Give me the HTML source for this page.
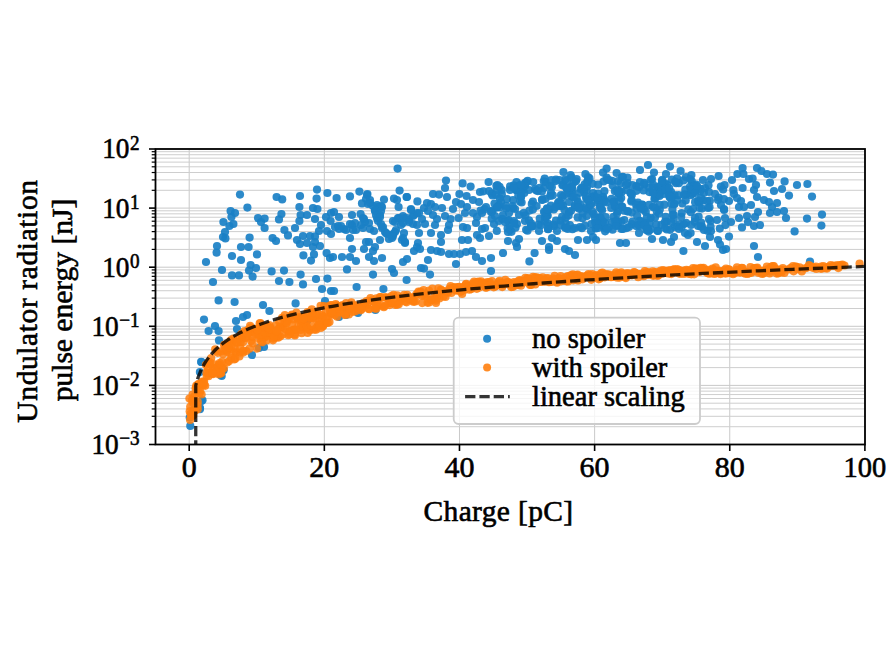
<!DOCTYPE html>
<html><head><meta charset="utf-8"><style>
html,body{margin:0;padding:0;background:#fff;width:890px;height:665px;overflow:hidden}
svg{display:block;font-family:"Liberation Serif",serif}
</style></head><body>
<svg width="890" height="665" viewBox="0 0 890 665" font-family="Liberation Serif, serif" fill="#000">
<defs><clipPath id="ax"><rect x="155.5" y="149.0" width="709.5" height="295.5"/></clipPath></defs>
<rect width="890" height="665" fill="#fff"/>
<line x1="189.20" y1="149.0" x2="189.20" y2="444.5" stroke="#c9c9c9" stroke-width="1.0"/>
<line x1="324.34" y1="149.0" x2="324.34" y2="444.5" stroke="#c9c9c9" stroke-width="1.0"/>
<line x1="459.48" y1="149.0" x2="459.48" y2="444.5" stroke="#c9c9c9" stroke-width="1.0"/>
<line x1="594.62" y1="149.0" x2="594.62" y2="444.5" stroke="#c9c9c9" stroke-width="1.0"/>
<line x1="729.76" y1="149.0" x2="729.76" y2="444.5" stroke="#c9c9c9" stroke-width="1.0"/>
<line x1="864.90" y1="149.0" x2="864.90" y2="444.5" stroke="#c9c9c9" stroke-width="1.0"/>
<line x1="155.5" y1="444.50" x2="865.0" y2="444.50" stroke="#c9c9c9" stroke-width="1.0"/>
<line x1="155.5" y1="426.71" x2="865.0" y2="426.71" stroke="#cecece" stroke-width="1.0"/>
<line x1="155.5" y1="416.30" x2="865.0" y2="416.30" stroke="#cecece" stroke-width="1.0"/>
<line x1="155.5" y1="408.92" x2="865.0" y2="408.92" stroke="#cecece" stroke-width="1.0"/>
<line x1="155.5" y1="403.19" x2="865.0" y2="403.19" stroke="#cecece" stroke-width="1.0"/>
<line x1="155.5" y1="398.51" x2="865.0" y2="398.51" stroke="#cecece" stroke-width="1.0"/>
<line x1="155.5" y1="394.55" x2="865.0" y2="394.55" stroke="#cecece" stroke-width="1.0"/>
<line x1="155.5" y1="391.13" x2="865.0" y2="391.13" stroke="#cecece" stroke-width="1.0"/>
<line x1="155.5" y1="388.10" x2="865.0" y2="388.10" stroke="#cecece" stroke-width="1.0"/>
<line x1="155.5" y1="385.40" x2="865.0" y2="385.40" stroke="#c9c9c9" stroke-width="1.0"/>
<line x1="155.5" y1="367.61" x2="865.0" y2="367.61" stroke="#cecece" stroke-width="1.0"/>
<line x1="155.5" y1="357.20" x2="865.0" y2="357.20" stroke="#cecece" stroke-width="1.0"/>
<line x1="155.5" y1="349.82" x2="865.0" y2="349.82" stroke="#cecece" stroke-width="1.0"/>
<line x1="155.5" y1="344.09" x2="865.0" y2="344.09" stroke="#cecece" stroke-width="1.0"/>
<line x1="155.5" y1="339.41" x2="865.0" y2="339.41" stroke="#cecece" stroke-width="1.0"/>
<line x1="155.5" y1="335.45" x2="865.0" y2="335.45" stroke="#cecece" stroke-width="1.0"/>
<line x1="155.5" y1="332.03" x2="865.0" y2="332.03" stroke="#cecece" stroke-width="1.0"/>
<line x1="155.5" y1="329.00" x2="865.0" y2="329.00" stroke="#cecece" stroke-width="1.0"/>
<line x1="155.5" y1="326.30" x2="865.0" y2="326.30" stroke="#c9c9c9" stroke-width="1.0"/>
<line x1="155.5" y1="308.51" x2="865.0" y2="308.51" stroke="#cecece" stroke-width="1.0"/>
<line x1="155.5" y1="298.10" x2="865.0" y2="298.10" stroke="#cecece" stroke-width="1.0"/>
<line x1="155.5" y1="290.72" x2="865.0" y2="290.72" stroke="#cecece" stroke-width="1.0"/>
<line x1="155.5" y1="284.99" x2="865.0" y2="284.99" stroke="#cecece" stroke-width="1.0"/>
<line x1="155.5" y1="280.31" x2="865.0" y2="280.31" stroke="#cecece" stroke-width="1.0"/>
<line x1="155.5" y1="276.35" x2="865.0" y2="276.35" stroke="#cecece" stroke-width="1.0"/>
<line x1="155.5" y1="272.93" x2="865.0" y2="272.93" stroke="#cecece" stroke-width="1.0"/>
<line x1="155.5" y1="269.90" x2="865.0" y2="269.90" stroke="#cecece" stroke-width="1.0"/>
<line x1="155.5" y1="267.20" x2="865.0" y2="267.20" stroke="#c9c9c9" stroke-width="1.0"/>
<line x1="155.5" y1="249.41" x2="865.0" y2="249.41" stroke="#cecece" stroke-width="1.0"/>
<line x1="155.5" y1="239.00" x2="865.0" y2="239.00" stroke="#cecece" stroke-width="1.0"/>
<line x1="155.5" y1="231.62" x2="865.0" y2="231.62" stroke="#cecece" stroke-width="1.0"/>
<line x1="155.5" y1="225.89" x2="865.0" y2="225.89" stroke="#cecece" stroke-width="1.0"/>
<line x1="155.5" y1="221.21" x2="865.0" y2="221.21" stroke="#cecece" stroke-width="1.0"/>
<line x1="155.5" y1="217.25" x2="865.0" y2="217.25" stroke="#cecece" stroke-width="1.0"/>
<line x1="155.5" y1="213.83" x2="865.0" y2="213.83" stroke="#cecece" stroke-width="1.0"/>
<line x1="155.5" y1="210.80" x2="865.0" y2="210.80" stroke="#cecece" stroke-width="1.0"/>
<line x1="155.5" y1="208.10" x2="865.0" y2="208.10" stroke="#c9c9c9" stroke-width="1.0"/>
<line x1="155.5" y1="190.31" x2="865.0" y2="190.31" stroke="#cecece" stroke-width="1.0"/>
<line x1="155.5" y1="179.90" x2="865.0" y2="179.90" stroke="#cecece" stroke-width="1.0"/>
<line x1="155.5" y1="172.52" x2="865.0" y2="172.52" stroke="#cecece" stroke-width="1.0"/>
<line x1="155.5" y1="166.79" x2="865.0" y2="166.79" stroke="#cecece" stroke-width="1.0"/>
<line x1="155.5" y1="162.11" x2="865.0" y2="162.11" stroke="#cecece" stroke-width="1.0"/>
<line x1="155.5" y1="158.15" x2="865.0" y2="158.15" stroke="#cecece" stroke-width="1.0"/>
<line x1="155.5" y1="154.73" x2="865.0" y2="154.73" stroke="#cecece" stroke-width="1.0"/>
<line x1="155.5" y1="151.70" x2="865.0" y2="151.70" stroke="#cecece" stroke-width="1.0"/>
<line x1="155.5" y1="149.00" x2="865.0" y2="149.00" stroke="#c9c9c9" stroke-width="1.0"/>
<g fill="#1a80c6" fill-opacity="0.92"><circle cx="512.6" cy="206.0" r="4.1"/><circle cx="624.2" cy="210.7" r="4.1"/><circle cx="511.5" cy="231.8" r="4.1"/><circle cx="695.1" cy="202.2" r="4.1"/><circle cx="599.6" cy="217.3" r="4.1"/><circle cx="560.5" cy="220.7" r="4.1"/><circle cx="725.4" cy="225.1" r="4.1"/><circle cx="531.8" cy="203.9" r="4.1"/><circle cx="547.0" cy="208.3" r="4.1"/><circle cx="644.7" cy="184.3" r="4.1"/><circle cx="657.7" cy="187.0" r="4.1"/><circle cx="614.9" cy="191.2" r="4.1"/><circle cx="627.4" cy="177.6" r="4.1"/><circle cx="540.9" cy="225.2" r="4.1"/><circle cx="622.9" cy="176.8" r="4.1"/><circle cx="564.4" cy="209.8" r="4.1"/><circle cx="580.4" cy="204.6" r="4.1"/><circle cx="621.7" cy="206.9" r="4.1"/><circle cx="659.7" cy="188.5" r="4.1"/><circle cx="627.8" cy="211.0" r="4.1"/><circle cx="631.3" cy="201.6" r="4.1"/><circle cx="547.5" cy="215.3" r="4.1"/><circle cx="646.2" cy="229.9" r="4.1"/><circle cx="579.2" cy="208.8" r="4.1"/><circle cx="551.0" cy="192.8" r="4.1"/><circle cx="621.7" cy="192.1" r="4.1"/><circle cx="613.6" cy="216.9" r="4.1"/><circle cx="507.9" cy="220.8" r="4.1"/><circle cx="709.9" cy="200.7" r="4.1"/><circle cx="686.1" cy="222.8" r="4.1"/><circle cx="525.0" cy="221.0" r="4.1"/><circle cx="685.9" cy="194.7" r="4.1"/><circle cx="529.0" cy="220.3" r="4.1"/><circle cx="545.6" cy="198.8" r="4.1"/><circle cx="564.9" cy="227.5" r="4.1"/><circle cx="572.5" cy="229.2" r="4.1"/><circle cx="642.2" cy="204.6" r="4.1"/><circle cx="544.0" cy="188.0" r="4.1"/><circle cx="619.5" cy="191.4" r="4.1"/><circle cx="667.3" cy="184.8" r="4.1"/><circle cx="642.2" cy="204.9" r="4.1"/><circle cx="517.0" cy="224.1" r="4.1"/><circle cx="678.6" cy="195.1" r="4.1"/><circle cx="603.1" cy="221.6" r="4.1"/><circle cx="681.5" cy="227.5" r="4.1"/><circle cx="631.7" cy="224.2" r="4.1"/><circle cx="522.8" cy="190.3" r="4.1"/><circle cx="569.0" cy="202.0" r="4.1"/><circle cx="593.1" cy="193.0" r="4.1"/><circle cx="547.1" cy="211.9" r="4.1"/><circle cx="550.1" cy="185.9" r="4.1"/><circle cx="556.0" cy="179.6" r="4.1"/><circle cx="553.8" cy="209.5" r="4.1"/><circle cx="556.0" cy="220.7" r="4.1"/><circle cx="571.6" cy="196.2" r="4.1"/><circle cx="654.4" cy="199.0" r="4.1"/><circle cx="580.6" cy="189.0" r="4.1"/><circle cx="652.0" cy="179.1" r="4.1"/><circle cx="569.9" cy="225.1" r="4.1"/><circle cx="554.1" cy="226.2" r="4.1"/><circle cx="520.0" cy="201.5" r="4.1"/><circle cx="681.7" cy="213.1" r="4.1"/><circle cx="612.0" cy="180.9" r="4.1"/><circle cx="708.5" cy="185.2" r="4.1"/><circle cx="645.4" cy="222.7" r="4.1"/><circle cx="616.6" cy="220.5" r="4.1"/><circle cx="674.1" cy="204.1" r="4.1"/><circle cx="612.0" cy="222.2" r="4.1"/><circle cx="669.8" cy="197.4" r="4.1"/><circle cx="561.0" cy="195.0" r="4.1"/><circle cx="565.9" cy="217.6" r="4.1"/><circle cx="650.7" cy="218.1" r="4.1"/><circle cx="597.7" cy="202.6" r="4.1"/><circle cx="597.8" cy="200.3" r="4.1"/><circle cx="496.8" cy="190.2" r="4.1"/><circle cx="618.6" cy="192.9" r="4.1"/><circle cx="650.8" cy="229.3" r="4.1"/><circle cx="655.1" cy="198.6" r="4.1"/><circle cx="618.3" cy="190.2" r="4.1"/><circle cx="492.5" cy="195.5" r="4.1"/><circle cx="676.1" cy="183.2" r="4.1"/><circle cx="586.3" cy="209.1" r="4.1"/><circle cx="694.6" cy="221.8" r="4.1"/><circle cx="586.8" cy="216.1" r="4.1"/><circle cx="562.1" cy="216.8" r="4.1"/><circle cx="582.6" cy="188.1" r="4.1"/><circle cx="658.9" cy="213.5" r="4.1"/><circle cx="700.4" cy="188.8" r="4.1"/><circle cx="518.9" cy="185.7" r="4.1"/><circle cx="701.9" cy="226.3" r="4.1"/><circle cx="703.9" cy="192.9" r="4.1"/><circle cx="662.3" cy="179.9" r="4.1"/><circle cx="694.3" cy="191.6" r="4.1"/><circle cx="617.0" cy="213.5" r="4.1"/><circle cx="542.1" cy="199.9" r="4.1"/><circle cx="559.2" cy="206.0" r="4.1"/><circle cx="523.8" cy="212.9" r="4.1"/><circle cx="710.6" cy="226.8" r="4.1"/><circle cx="671.0" cy="191.8" r="4.1"/><circle cx="639.5" cy="220.9" r="4.1"/><circle cx="670.0" cy="229.8" r="4.1"/><circle cx="603.5" cy="181.5" r="4.1"/><circle cx="547.4" cy="215.9" r="4.1"/><circle cx="612.7" cy="185.4" r="4.1"/><circle cx="632.4" cy="185.2" r="4.1"/><circle cx="639.9" cy="182.0" r="4.1"/><circle cx="622.2" cy="206.6" r="4.1"/><circle cx="579.6" cy="192.8" r="4.1"/><circle cx="605.7" cy="217.2" r="4.1"/><circle cx="521.1" cy="196.9" r="4.1"/><circle cx="674.5" cy="195.2" r="4.1"/><circle cx="563.0" cy="205.9" r="4.1"/><circle cx="547.6" cy="223.3" r="4.1"/><circle cx="496.4" cy="185.8" r="4.1"/><circle cx="666.7" cy="221.5" r="4.1"/><circle cx="620.5" cy="183.3" r="4.1"/><circle cx="617.8" cy="211.1" r="4.1"/><circle cx="649.4" cy="192.1" r="4.1"/><circle cx="587.6" cy="209.3" r="4.1"/><circle cx="590.0" cy="204.8" r="4.1"/><circle cx="499.0" cy="205.2" r="4.1"/><circle cx="592.6" cy="211.8" r="4.1"/><circle cx="612.6" cy="229.7" r="4.1"/><circle cx="538.6" cy="224.6" r="4.1"/><circle cx="544.8" cy="221.0" r="4.1"/><circle cx="587.9" cy="181.2" r="4.1"/><circle cx="603.9" cy="199.1" r="4.1"/><circle cx="532.9" cy="201.5" r="4.1"/><circle cx="562.4" cy="185.3" r="4.1"/><circle cx="659.5" cy="195.9" r="4.1"/><circle cx="601.4" cy="209.0" r="4.1"/><circle cx="678.9" cy="183.2" r="4.1"/><circle cx="499.6" cy="186.9" r="4.1"/><circle cx="563.1" cy="184.6" r="4.1"/><circle cx="589.5" cy="178.4" r="4.1"/><circle cx="576.6" cy="198.2" r="4.1"/><circle cx="584.7" cy="184.4" r="4.1"/><circle cx="545.6" cy="182.1" r="4.1"/><circle cx="661.9" cy="190.7" r="4.1"/><circle cx="581.9" cy="228.2" r="4.1"/><circle cx="516.2" cy="190.2" r="4.1"/><circle cx="631.9" cy="194.7" r="4.1"/><circle cx="648.1" cy="230.2" r="4.1"/><circle cx="639.6" cy="226.3" r="4.1"/><circle cx="719.8" cy="228.6" r="4.1"/><circle cx="532.9" cy="209.6" r="4.1"/><circle cx="647.4" cy="227.9" r="4.1"/><circle cx="665.6" cy="216.8" r="4.1"/><circle cx="608.8" cy="227.6" r="4.1"/><circle cx="566.5" cy="188.1" r="4.1"/><circle cx="586.6" cy="190.4" r="4.1"/><circle cx="659.8" cy="209.5" r="4.1"/><circle cx="558.0" cy="202.8" r="4.1"/><circle cx="582.4" cy="218.2" r="4.1"/><circle cx="663.5" cy="194.0" r="4.1"/><circle cx="636.6" cy="208.4" r="4.1"/><circle cx="510.1" cy="230.1" r="4.1"/><circle cx="611.5" cy="198.9" r="4.1"/><circle cx="624.3" cy="220.0" r="4.1"/><circle cx="497.4" cy="185.1" r="4.1"/><circle cx="691.8" cy="181.4" r="4.1"/><circle cx="581.9" cy="187.7" r="4.1"/><circle cx="627.7" cy="211.6" r="4.1"/><circle cx="575.9" cy="181.3" r="4.1"/><circle cx="621.3" cy="221.4" r="4.1"/><circle cx="604.5" cy="201.5" r="4.1"/><circle cx="569.0" cy="212.0" r="4.1"/><circle cx="542.2" cy="199.6" r="4.1"/><circle cx="661.5" cy="224.9" r="4.1"/><circle cx="626.7" cy="228.1" r="4.1"/><circle cx="567.7" cy="229.0" r="4.1"/><circle cx="660.3" cy="191.8" r="4.1"/><circle cx="667.3" cy="190.7" r="4.1"/><circle cx="545.2" cy="217.3" r="4.1"/><circle cx="527.6" cy="180.9" r="4.1"/><circle cx="565.4" cy="179.4" r="4.1"/><circle cx="672.6" cy="214.9" r="4.1"/><circle cx="600.4" cy="205.9" r="4.1"/><circle cx="700.1" cy="191.3" r="4.1"/><circle cx="710.5" cy="221.0" r="4.1"/><circle cx="514.0" cy="221.0" r="4.1"/><circle cx="502.2" cy="218.9" r="4.1"/><circle cx="535.0" cy="189.1" r="4.1"/><circle cx="567.6" cy="189.8" r="4.1"/><circle cx="571.0" cy="210.8" r="4.1"/><circle cx="595.2" cy="222.4" r="4.1"/><circle cx="525.3" cy="184.6" r="4.1"/><circle cx="636.1" cy="226.1" r="4.1"/><circle cx="582.6" cy="212.9" r="4.1"/><circle cx="688.3" cy="209.4" r="4.1"/><circle cx="598.1" cy="184.7" r="4.1"/><circle cx="648.6" cy="231.6" r="4.1"/><circle cx="564.5" cy="195.1" r="4.1"/><circle cx="565.6" cy="223.5" r="4.1"/><circle cx="724.1" cy="209.9" r="4.1"/><circle cx="615.2" cy="206.3" r="4.1"/><circle cx="525.4" cy="215.4" r="4.1"/><circle cx="597.0" cy="226.1" r="4.1"/><circle cx="636.3" cy="186.1" r="4.1"/><circle cx="536.4" cy="190.4" r="4.1"/><circle cx="526.0" cy="182.5" r="4.1"/><circle cx="510.1" cy="186.4" r="4.1"/><circle cx="600.5" cy="217.4" r="4.1"/><circle cx="632.5" cy="221.6" r="4.1"/><circle cx="526.1" cy="229.8" r="4.1"/><circle cx="521.6" cy="202.5" r="4.1"/><circle cx="606.6" cy="177.7" r="4.1"/><circle cx="645.8" cy="211.9" r="4.1"/><circle cx="603.1" cy="196.8" r="4.1"/><circle cx="525.6" cy="182.5" r="4.1"/><circle cx="548.1" cy="229.2" r="4.1"/><circle cx="654.5" cy="192.9" r="4.1"/><circle cx="545.3" cy="217.6" r="4.1"/><circle cx="613.5" cy="201.5" r="4.1"/><circle cx="574.9" cy="205.5" r="4.1"/><circle cx="696.2" cy="184.6" r="4.1"/><circle cx="649.1" cy="204.9" r="4.1"/><circle cx="484.6" cy="209.2" r="4.1"/><circle cx="594.4" cy="196.3" r="4.1"/><circle cx="549.3" cy="209.3" r="4.1"/><circle cx="527.5" cy="230.7" r="4.1"/><circle cx="544.0" cy="211.8" r="4.1"/><circle cx="602.1" cy="224.9" r="4.1"/><circle cx="601.2" cy="200.2" r="4.1"/><circle cx="677.1" cy="178.4" r="4.1"/><circle cx="551.8" cy="187.2" r="4.1"/><circle cx="657.0" cy="195.6" r="4.1"/><circle cx="594.1" cy="197.7" r="4.1"/><circle cx="638.8" cy="224.9" r="4.1"/><circle cx="627.5" cy="183.0" r="4.1"/><circle cx="537.8" cy="191.1" r="4.1"/><circle cx="604.3" cy="227.5" r="4.1"/><circle cx="664.9" cy="222.2" r="4.1"/><circle cx="585.0" cy="225.7" r="4.1"/><circle cx="693.9" cy="185.5" r="4.1"/><circle cx="558.6" cy="204.2" r="4.1"/><circle cx="631.7" cy="212.6" r="4.1"/><circle cx="650.8" cy="179.8" r="4.1"/><circle cx="586.4" cy="199.1" r="4.1"/><circle cx="692.1" cy="193.9" r="4.1"/><circle cx="617.8" cy="225.4" r="4.1"/><circle cx="559.5" cy="180.0" r="4.1"/><circle cx="599.7" cy="207.7" r="4.1"/><circle cx="604.4" cy="191.2" r="4.1"/><circle cx="641.7" cy="205.1" r="4.1"/><circle cx="531.1" cy="226.3" r="4.1"/><circle cx="602.1" cy="210.3" r="4.1"/><circle cx="674.5" cy="226.9" r="4.1"/><circle cx="665.1" cy="186.6" r="4.1"/><circle cx="572.0" cy="192.8" r="4.1"/><circle cx="718.6" cy="197.6" r="4.1"/><circle cx="592.1" cy="196.9" r="4.1"/><circle cx="562.4" cy="197.2" r="4.1"/><circle cx="516.5" cy="190.0" r="4.1"/><circle cx="543.8" cy="181.3" r="4.1"/><circle cx="574.9" cy="207.2" r="4.1"/><circle cx="653.4" cy="187.3" r="4.1"/><circle cx="625.9" cy="185.0" r="4.1"/><circle cx="560.2" cy="205.8" r="4.1"/><circle cx="631.6" cy="200.2" r="4.1"/><circle cx="679.9" cy="224.0" r="4.1"/><circle cx="616.6" cy="190.3" r="4.1"/><circle cx="649.1" cy="187.6" r="4.1"/><circle cx="658.6" cy="194.3" r="4.1"/><circle cx="618.0" cy="181.1" r="4.1"/><circle cx="699.5" cy="202.2" r="4.1"/><circle cx="703.3" cy="200.5" r="4.1"/><circle cx="617.8" cy="222.0" r="4.1"/><circle cx="532.3" cy="225.9" r="4.1"/><circle cx="605.1" cy="231.3" r="4.1"/><circle cx="668.2" cy="191.6" r="4.1"/><circle cx="647.0" cy="216.9" r="4.1"/><circle cx="586.0" cy="207.3" r="4.1"/><circle cx="652.8" cy="207.1" r="4.1"/><circle cx="661.1" cy="184.8" r="4.1"/><circle cx="499.8" cy="198.3" r="4.1"/><circle cx="587.1" cy="186.5" r="4.1"/><circle cx="603.9" cy="227.6" r="4.1"/><circle cx="597.2" cy="197.6" r="4.1"/><circle cx="524.3" cy="192.9" r="4.1"/><circle cx="572.4" cy="189.9" r="4.1"/><circle cx="496.8" cy="207.6" r="4.1"/><circle cx="681.2" cy="216.8" r="4.1"/><circle cx="539.7" cy="218.5" r="4.1"/><circle cx="643.5" cy="190.4" r="4.1"/><circle cx="553.6" cy="224.6" r="4.1"/><circle cx="593.8" cy="214.2" r="4.1"/><circle cx="685.3" cy="189.7" r="4.1"/><circle cx="618.6" cy="197.1" r="4.1"/><circle cx="491.8" cy="211.5" r="4.1"/><circle cx="671.2" cy="203.8" r="4.1"/><circle cx="698.6" cy="216.5" r="4.1"/><circle cx="720.9" cy="186.6" r="4.1"/><circle cx="665.2" cy="183.5" r="4.1"/><circle cx="643.9" cy="209.4" r="4.1"/><circle cx="626.4" cy="190.0" r="4.1"/><circle cx="653.1" cy="184.7" r="4.1"/><circle cx="598.1" cy="193.7" r="4.1"/><circle cx="685.7" cy="200.4" r="4.1"/><circle cx="539.6" cy="187.8" r="4.1"/><circle cx="684.1" cy="194.7" r="4.1"/><circle cx="566.8" cy="180.5" r="4.1"/><circle cx="614.7" cy="206.1" r="4.1"/><circle cx="499.9" cy="207.4" r="4.1"/><circle cx="672.4" cy="209.3" r="4.1"/><circle cx="664.3" cy="204.7" r="4.1"/><circle cx="682.3" cy="203.5" r="4.1"/><circle cx="573.8" cy="182.2" r="4.1"/><circle cx="515.5" cy="227.7" r="4.1"/><circle cx="656.1" cy="224.5" r="4.1"/><circle cx="584.2" cy="192.1" r="4.1"/><circle cx="480.5" cy="210.7" r="4.1"/><circle cx="674.5" cy="204.0" r="4.1"/><circle cx="568.6" cy="215.5" r="4.1"/><circle cx="559.2" cy="201.5" r="4.1"/><circle cx="665.1" cy="189.7" r="4.1"/><circle cx="518.3" cy="195.4" r="4.1"/><circle cx="666.8" cy="229.5" r="4.1"/><circle cx="501.8" cy="194.2" r="4.1"/><circle cx="513.1" cy="208.3" r="4.1"/><circle cx="513.7" cy="185.4" r="4.1"/><circle cx="494.5" cy="203.6" r="4.1"/><circle cx="709.5" cy="207.2" r="4.1"/><circle cx="571.5" cy="177.3" r="4.1"/><circle cx="669.1" cy="195.7" r="4.1"/><circle cx="523.1" cy="187.5" r="4.1"/><circle cx="662.0" cy="180.9" r="4.1"/><circle cx="585.9" cy="196.6" r="4.1"/><circle cx="572.0" cy="186.4" r="4.1"/><circle cx="637.1" cy="215.8" r="4.1"/><circle cx="657.5" cy="230.8" r="4.1"/><circle cx="676.9" cy="226.3" r="4.1"/><circle cx="621.4" cy="229.0" r="4.1"/><circle cx="700.9" cy="226.7" r="4.1"/><circle cx="568.8" cy="193.0" r="4.1"/><circle cx="723.1" cy="189.5" r="4.1"/><circle cx="507.6" cy="228.4" r="4.1"/><circle cx="505.8" cy="205.9" r="4.1"/><circle cx="561.5" cy="203.9" r="4.1"/><circle cx="690.0" cy="179.0" r="4.1"/><circle cx="545.2" cy="212.3" r="4.1"/><circle cx="516.5" cy="182.1" r="4.1"/><circle cx="491.7" cy="193.7" r="4.1"/><circle cx="536.6" cy="206.0" r="4.1"/><circle cx="541.9" cy="191.6" r="4.1"/><circle cx="677.5" cy="200.0" r="4.1"/><circle cx="587.2" cy="181.9" r="4.1"/><circle cx="698.5" cy="202.3" r="4.1"/><circle cx="597.3" cy="223.2" r="4.1"/><circle cx="550.3" cy="195.9" r="4.1"/><circle cx="606.2" cy="202.3" r="4.1"/><circle cx="577.7" cy="201.9" r="4.1"/><circle cx="496.8" cy="230.9" r="4.1"/><circle cx="604.9" cy="222.8" r="4.1"/><circle cx="707.5" cy="230.8" r="4.1"/><circle cx="555.6" cy="181.1" r="4.1"/><circle cx="577.7" cy="217.4" r="4.1"/><circle cx="607.3" cy="179.6" r="4.1"/><circle cx="693.2" cy="191.0" r="4.1"/><circle cx="595.7" cy="228.4" r="4.1"/><circle cx="655.0" cy="217.4" r="4.1"/><circle cx="673.7" cy="214.8" r="4.1"/><circle cx="506.2" cy="208.5" r="4.1"/><circle cx="698.3" cy="200.4" r="4.1"/><circle cx="644.1" cy="182.8" r="4.1"/><circle cx="684.0" cy="224.0" r="4.1"/><circle cx="573.6" cy="197.2" r="4.1"/><circle cx="653.0" cy="193.1" r="4.1"/><circle cx="673.7" cy="219.3" r="4.1"/><circle cx="621.2" cy="198.1" r="4.1"/><circle cx="571.3" cy="187.3" r="4.1"/><circle cx="547.1" cy="209.2" r="4.1"/><circle cx="641.4" cy="209.3" r="4.1"/><circle cx="591.0" cy="204.8" r="4.1"/><circle cx="531.0" cy="223.4" r="4.1"/><circle cx="587.9" cy="200.2" r="4.1"/><circle cx="501.7" cy="190.0" r="4.1"/><circle cx="611.2" cy="207.9" r="4.1"/><circle cx="578.8" cy="207.2" r="4.1"/><circle cx="641.2" cy="221.3" r="4.1"/><circle cx="529.5" cy="210.6" r="4.1"/><circle cx="591.4" cy="224.0" r="4.1"/><circle cx="544.7" cy="178.7" r="4.1"/><circle cx="550.9" cy="205.6" r="4.1"/><circle cx="699.7" cy="208.1" r="4.1"/><circle cx="656.8" cy="211.2" r="4.1"/><circle cx="669.1" cy="188.0" r="4.1"/><circle cx="483.3" cy="191.3" r="4.1"/><circle cx="533.2" cy="182.0" r="4.1"/><circle cx="683.5" cy="180.4" r="4.1"/><circle cx="560.9" cy="225.0" r="4.1"/><circle cx="649.5" cy="223.2" r="4.1"/><circle cx="521.0" cy="196.0" r="4.1"/><circle cx="644.5" cy="225.1" r="4.1"/><circle cx="594.9" cy="217.7" r="4.1"/><circle cx="552.8" cy="195.3" r="4.1"/><circle cx="509.7" cy="225.3" r="4.1"/><circle cx="637.9" cy="202.7" r="4.1"/><circle cx="613.9" cy="202.0" r="4.1"/><circle cx="671.7" cy="197.3" r="4.1"/><circle cx="639.1" cy="187.0" r="4.1"/><circle cx="615.2" cy="222.1" r="4.1"/><circle cx="532.4" cy="226.6" r="4.1"/><circle cx="555.4" cy="207.0" r="4.1"/><circle cx="636.1" cy="204.5" r="4.1"/><circle cx="524.9" cy="186.1" r="4.1"/><circle cx="690.8" cy="212.2" r="4.1"/><circle cx="659.7" cy="204.8" r="4.1"/><circle cx="619.6" cy="200.6" r="4.1"/><circle cx="640.4" cy="208.0" r="4.1"/><circle cx="618.2" cy="192.7" r="4.1"/><circle cx="670.3" cy="196.9" r="4.1"/><circle cx="671.8" cy="179.7" r="4.1"/><circle cx="630.4" cy="192.9" r="4.1"/><circle cx="548.4" cy="226.1" r="4.1"/><circle cx="675.2" cy="181.6" r="4.1"/><circle cx="702.0" cy="208.6" r="4.1"/><circle cx="671.2" cy="222.1" r="4.1"/><circle cx="631.2" cy="193.4" r="4.1"/><circle cx="508.7" cy="220.2" r="4.1"/><circle cx="491.7" cy="218.7" r="4.1"/><circle cx="690.0" cy="186.8" r="4.1"/><circle cx="566.6" cy="187.7" r="4.1"/><circle cx="654.5" cy="207.0" r="4.1"/><circle cx="694.0" cy="186.2" r="4.1"/><circle cx="592.5" cy="183.8" r="4.1"/><circle cx="636.5" cy="190.8" r="4.1"/><circle cx="690.8" cy="195.2" r="4.1"/><circle cx="492.5" cy="210.7" r="4.1"/><circle cx="701.1" cy="222.7" r="4.1"/><circle cx="240.0" cy="194.6" r="4.1"/><circle cx="247.4" cy="207.6" r="4.1"/><circle cx="276.6" cy="197.0" r="4.1"/><circle cx="282.2" cy="199.4" r="4.1"/><circle cx="300.0" cy="196.0" r="4.1"/><circle cx="317.0" cy="189.6" r="4.1"/><circle cx="316.6" cy="198.6" r="4.1"/><circle cx="327.4" cy="193.0" r="4.1"/><circle cx="230.6" cy="211.0" r="4.1"/><circle cx="235.0" cy="213.0" r="4.1"/><circle cx="231.4" cy="217.0" r="4.1"/><circle cx="233.4" cy="224.0" r="4.1"/><circle cx="223.4" cy="222.0" r="4.1"/><circle cx="229.4" cy="226.0" r="4.1"/><circle cx="225.0" cy="232.0" r="4.1"/><circle cx="223.0" cy="237.0" r="4.1"/><circle cx="225.4" cy="238.4" r="4.1"/><circle cx="258.0" cy="218.0" r="4.1"/><circle cx="264.6" cy="218.6" r="4.1"/><circle cx="261.0" cy="222.0" r="4.1"/><circle cx="264.6" cy="228.0" r="4.1"/><circle cx="281.4" cy="214.0" r="4.1"/><circle cx="279.0" cy="219.4" r="4.1"/><circle cx="284.4" cy="230.0" r="4.1"/><circle cx="288.0" cy="235.4" r="4.1"/><circle cx="272.6" cy="238.0" r="4.1"/><circle cx="276.0" cy="241.0" r="4.1"/><circle cx="299.4" cy="207.0" r="4.1"/><circle cx="300.6" cy="215.0" r="4.1"/><circle cx="299.4" cy="221.0" r="4.1"/><circle cx="295.0" cy="228.0" r="4.1"/><circle cx="307.0" cy="215.0" r="4.1"/><circle cx="313.0" cy="208.0" r="4.1"/><circle cx="317.4" cy="209.0" r="4.1"/><circle cx="315.0" cy="219.0" r="4.1"/><circle cx="321.0" cy="225.0" r="4.1"/><circle cx="319.0" cy="231.0" r="4.1"/><circle cx="326.0" cy="217.0" r="4.1"/><circle cx="331.0" cy="213.0" r="4.1"/><circle cx="330.6" cy="221.0" r="4.1"/><circle cx="327.0" cy="231.0" r="4.1"/><circle cx="331.0" cy="234.0" r="4.1"/><circle cx="303.0" cy="236.0" r="4.1"/><circle cx="310.0" cy="236.0" r="4.1"/><circle cx="315.0" cy="236.4" r="4.1"/><circle cx="297.0" cy="240.0" r="4.1"/><circle cx="300.0" cy="244.0" r="4.1"/><circle cx="307.0" cy="243.0" r="4.1"/><circle cx="315.0" cy="242.0" r="4.1"/><circle cx="313.0" cy="247.0" r="4.1"/><circle cx="320.0" cy="246.0" r="4.1"/><circle cx="249.6" cy="237.6" r="4.1"/><circle cx="241.0" cy="247.0" r="4.1"/><circle cx="248.6" cy="247.0" r="4.1"/><circle cx="217.0" cy="246.0" r="4.1"/><circle cx="216.6" cy="252.6" r="4.1"/><circle cx="232.0" cy="256.0" r="4.1"/><circle cx="241.0" cy="260.0" r="4.1"/><circle cx="257.0" cy="254.4" r="4.1"/><circle cx="206.0" cy="262.0" r="4.1"/><circle cx="222.0" cy="270.0" r="4.1"/><circle cx="232.0" cy="275.4" r="4.1"/><circle cx="239.0" cy="275.4" r="4.1"/><circle cx="250.6" cy="265.0" r="4.1"/><circle cx="256.0" cy="268.0" r="4.1"/><circle cx="249.0" cy="270.6" r="4.1"/><circle cx="252.6" cy="276.6" r="4.1"/><circle cx="271.6" cy="271.4" r="4.1"/><circle cx="284.0" cy="270.6" r="4.1"/><circle cx="303.4" cy="255.4" r="4.1"/><circle cx="314.0" cy="254.4" r="4.1"/><circle cx="311.0" cy="260.6" r="4.1"/><circle cx="326.6" cy="253.0" r="4.1"/><circle cx="330.0" cy="258.0" r="4.1"/><circle cx="300.6" cy="274.6" r="4.1"/><circle cx="316.0" cy="279.0" r="4.1"/><circle cx="327.4" cy="278.6" r="4.1"/><circle cx="279.0" cy="281.0" r="4.1"/><circle cx="289.4" cy="282.0" r="4.1"/><circle cx="213.0" cy="282.0" r="4.1"/><circle cx="397.6" cy="168.6" r="4.1"/><circle cx="446.0" cy="180.6" r="4.1"/><circle cx="462.6" cy="183.4" r="4.1"/><circle cx="488.6" cy="182.0" r="4.1"/><circle cx="470.6" cy="186.6" r="4.1"/><circle cx="445.0" cy="188.0" r="4.1"/><circle cx="399.6" cy="190.6" r="4.1"/><circle cx="359.4" cy="191.6" r="4.1"/><circle cx="367.4" cy="194.0" r="4.1"/><circle cx="350.0" cy="196.4" r="4.1"/><circle cx="336.6" cy="198.0" r="4.1"/><circle cx="406.6" cy="197.0" r="4.1"/><circle cx="384.0" cy="199.6" r="4.1"/><circle cx="394.0" cy="198.6" r="4.1"/><circle cx="417.4" cy="201.4" r="4.1"/><circle cx="433.0" cy="194.0" r="4.1"/><circle cx="439.0" cy="194.6" r="4.1"/><circle cx="447.0" cy="197.0" r="4.1"/><circle cx="459.4" cy="194.0" r="4.1"/><circle cx="480.0" cy="192.0" r="4.1"/><circle cx="489.0" cy="191.0" r="4.1"/><circle cx="496.0" cy="195.0" r="4.1"/><circle cx="466.6" cy="196.0" r="4.1"/><circle cx="473.0" cy="200.0" r="4.1"/><circle cx="479.0" cy="202.0" r="4.1"/><circle cx="510.0" cy="190.0" r="4.1"/><circle cx="362.0" cy="203.4" r="4.1"/><circle cx="370.0" cy="203.0" r="4.1"/><circle cx="378.0" cy="207.0" r="4.1"/><circle cx="382.0" cy="207.0" r="4.1"/><circle cx="375.0" cy="211.0" r="4.1"/><circle cx="380.0" cy="215.0" r="4.1"/><circle cx="377.0" cy="218.0" r="4.1"/><circle cx="398.6" cy="207.0" r="4.1"/><circle cx="411.0" cy="209.0" r="4.1"/><circle cx="427.0" cy="203.0" r="4.1"/><circle cx="431.0" cy="204.0" r="4.1"/><circle cx="424.0" cy="208.0" r="4.1"/><circle cx="435.0" cy="207.0" r="4.1"/><circle cx="442.0" cy="208.0" r="4.1"/><circle cx="456.0" cy="202.0" r="4.1"/><circle cx="461.0" cy="204.0" r="4.1"/><circle cx="467.0" cy="207.0" r="4.1"/><circle cx="453.0" cy="209.0" r="4.1"/><circle cx="486.0" cy="207.0" r="4.1"/><circle cx="501.0" cy="202.0" r="4.1"/><circle cx="507.0" cy="199.0" r="4.1"/><circle cx="497.0" cy="207.0" r="4.1"/><circle cx="334.0" cy="212.0" r="4.1"/><circle cx="339.0" cy="217.0" r="4.1"/><circle cx="352.0" cy="215.0" r="4.1"/><circle cx="360.6" cy="214.0" r="4.1"/><circle cx="364.0" cy="219.0" r="4.1"/><circle cx="369.0" cy="223.0" r="4.1"/><circle cx="393.0" cy="221.0" r="4.1"/><circle cx="399.0" cy="218.0" r="4.1"/><circle cx="404.0" cy="218.0" r="4.1"/><circle cx="409.0" cy="220.0" r="4.1"/><circle cx="414.0" cy="215.0" r="4.1"/><circle cx="419.0" cy="213.0" r="4.1"/><circle cx="428.0" cy="211.0" r="4.1"/><circle cx="433.0" cy="215.0" r="4.1"/><circle cx="437.0" cy="219.0" r="4.1"/><circle cx="422.0" cy="219.0" r="4.1"/><circle cx="425.0" cy="224.0" r="4.1"/><circle cx="413.0" cy="224.0" r="4.1"/><circle cx="417.0" cy="225.0" r="4.1"/><circle cx="445.0" cy="216.0" r="4.1"/><circle cx="450.6" cy="219.0" r="4.1"/><circle cx="458.6" cy="218.0" r="4.1"/><circle cx="465.0" cy="213.0" r="4.1"/><circle cx="473.0" cy="213.0" r="4.1"/><circle cx="477.0" cy="217.0" r="4.1"/><circle cx="482.0" cy="213.0" r="4.1"/><circle cx="491.0" cy="212.0" r="4.1"/><circle cx="495.0" cy="216.0" r="4.1"/><circle cx="503.0" cy="215.0" r="4.1"/><circle cx="509.0" cy="213.0" r="4.1"/><circle cx="338.0" cy="226.0" r="4.1"/><circle cx="344.0" cy="229.0" r="4.1"/><circle cx="352.0" cy="225.0" r="4.1"/><circle cx="356.0" cy="230.0" r="4.1"/><circle cx="363.0" cy="228.0" r="4.1"/><circle cx="370.0" cy="229.0" r="4.1"/><circle cx="382.0" cy="228.0" r="4.1"/><circle cx="386.0" cy="233.0" r="4.1"/><circle cx="374.0" cy="231.0" r="4.1"/><circle cx="393.0" cy="234.0" r="4.1"/><circle cx="396.0" cy="230.0" r="4.1"/><circle cx="404.0" cy="233.0" r="4.1"/><circle cx="392.0" cy="238.0" r="4.1"/><circle cx="419.0" cy="233.0" r="4.1"/><circle cx="431.0" cy="233.0" r="4.1"/><circle cx="435.0" cy="225.0" r="4.1"/><circle cx="441.0" cy="235.0" r="4.1"/><circle cx="448.0" cy="230.0" r="4.1"/><circle cx="449.0" cy="225.0" r="4.1"/><circle cx="463.0" cy="227.0" r="4.1"/><circle cx="467.0" cy="228.0" r="4.1"/><circle cx="476.0" cy="223.0" r="4.1"/><circle cx="482.0" cy="229.0" r="4.1"/><circle cx="485.0" cy="228.0" r="4.1"/><circle cx="494.0" cy="224.0" r="4.1"/><circle cx="499.0" cy="221.0" r="4.1"/><circle cx="505.0" cy="222.0" r="4.1"/><circle cx="508.0" cy="232.0" r="4.1"/><circle cx="350.0" cy="238.0" r="4.1"/><circle cx="366.0" cy="242.0" r="4.1"/><circle cx="369.0" cy="242.0" r="4.1"/><circle cx="380.0" cy="240.0" r="4.1"/><circle cx="402.0" cy="240.0" r="4.1"/><circle cx="405.0" cy="243.0" r="4.1"/><circle cx="418.0" cy="243.0" r="4.1"/><circle cx="441.0" cy="242.0" r="4.1"/><circle cx="462.0" cy="240.0" r="4.1"/><circle cx="468.0" cy="240.0" r="4.1"/><circle cx="477.0" cy="235.0" r="4.1"/><circle cx="480.0" cy="238.0" r="4.1"/><circle cx="489.0" cy="236.0" r="4.1"/><circle cx="508.0" cy="241.0" r="4.1"/><circle cx="352.0" cy="249.0" r="4.1"/><circle cx="364.0" cy="249.0" r="4.1"/><circle cx="375.0" cy="247.0" r="4.1"/><circle cx="373.0" cy="251.0" r="4.1"/><circle cx="417.0" cy="247.0" r="4.1"/><circle cx="414.0" cy="251.0" r="4.1"/><circle cx="420.0" cy="249.0" r="4.1"/><circle cx="431.0" cy="250.0" r="4.1"/><circle cx="437.0" cy="251.0" r="4.1"/><circle cx="441.0" cy="252.0" r="4.1"/><circle cx="449.0" cy="254.0" r="4.1"/><circle cx="454.0" cy="254.0" r="4.1"/><circle cx="460.0" cy="254.0" r="4.1"/><circle cx="466.0" cy="252.0" r="4.1"/><circle cx="472.0" cy="251.0" r="4.1"/><circle cx="476.0" cy="257.0" r="4.1"/><circle cx="482.0" cy="261.0" r="4.1"/><circle cx="491.0" cy="258.0" r="4.1"/><circle cx="503.0" cy="253.0" r="4.1"/><circle cx="333.0" cy="257.0" r="4.1"/><circle cx="342.0" cy="257.0" r="4.1"/><circle cx="350.0" cy="257.0" r="4.1"/><circle cx="356.0" cy="261.0" r="4.1"/><circle cx="369.0" cy="257.0" r="4.1"/><circle cx="374.0" cy="261.0" r="4.1"/><circle cx="382.0" cy="258.0" r="4.1"/><circle cx="403.0" cy="262.0" r="4.1"/><circle cx="407.0" cy="259.0" r="4.1"/><circle cx="428.0" cy="260.0" r="4.1"/><circle cx="456.0" cy="264.0" r="4.1"/><circle cx="347.0" cy="269.4" r="4.1"/><circle cx="373.0" cy="274.6" r="4.1"/><circle cx="392.0" cy="269.0" r="4.1"/><circle cx="394.0" cy="273.0" r="4.1"/><circle cx="421.0" cy="268.0" r="4.1"/><circle cx="424.0" cy="268.6" r="4.1"/><circle cx="430.0" cy="274.6" r="4.1"/><circle cx="491.0" cy="271.0" r="4.1"/><circle cx="406.6" cy="280.0" r="4.1"/><circle cx="648.0" cy="165.0" r="4.1"/><circle cx="670.0" cy="166.6" r="4.1"/><circle cx="640.0" cy="170.0" r="4.1"/><circle cx="606.6" cy="168.6" r="4.1"/><circle cx="603.0" cy="172.6" r="4.1"/><circle cx="563.4" cy="172.0" r="4.1"/><circle cx="570.6" cy="175.0" r="4.1"/><circle cx="576.6" cy="179.0" r="4.1"/><circle cx="585.4" cy="174.0" r="4.1"/><circle cx="588.0" cy="177.0" r="4.1"/><circle cx="616.6" cy="173.0" r="4.1"/><circle cx="622.0" cy="177.0" r="4.1"/><circle cx="654.0" cy="172.6" r="4.1"/><circle cx="666.0" cy="174.0" r="4.1"/><circle cx="680.6" cy="171.0" r="4.1"/><circle cx="686.0" cy="177.0" r="4.1"/><circle cx="551.4" cy="180.0" r="4.1"/><circle cx="609.0" cy="180.0" r="4.1"/><circle cx="514.0" cy="188.0" r="4.1"/><circle cx="521.0" cy="184.6" r="4.1"/><circle cx="529.0" cy="190.0" r="4.1"/><circle cx="513.0" cy="200.0" r="4.1"/><circle cx="515.0" cy="209.0" r="4.1"/><circle cx="519.0" cy="215.0" r="4.1"/><circle cx="514.0" cy="223.0" r="4.1"/><circle cx="531.0" cy="226.0" r="4.1"/><circle cx="539.0" cy="231.0" r="4.1"/><circle cx="548.0" cy="229.0" r="4.1"/><circle cx="557.0" cy="231.0" r="4.1"/><circle cx="566.0" cy="228.0" r="4.1"/><circle cx="575.0" cy="228.0" r="4.1"/><circle cx="580.0" cy="227.0" r="4.1"/><circle cx="591.0" cy="231.0" r="4.1"/><circle cx="598.0" cy="228.0" r="4.1"/><circle cx="607.0" cy="229.0" r="4.1"/><circle cx="616.0" cy="226.0" r="4.1"/><circle cx="623.0" cy="229.0" r="4.1"/><circle cx="629.0" cy="227.0" r="4.1"/><circle cx="639.0" cy="233.0" r="4.1"/><circle cx="647.0" cy="229.0" r="4.1"/><circle cx="658.0" cy="231.0" r="4.1"/><circle cx="665.0" cy="228.0" r="4.1"/><circle cx="679.0" cy="229.0" r="4.1"/><circle cx="685.0" cy="233.0" r="4.1"/><circle cx="519.0" cy="239.0" r="4.1"/><circle cx="516.0" cy="243.0" r="4.1"/><circle cx="517.0" cy="247.0" r="4.1"/><circle cx="542.0" cy="241.0" r="4.1"/><circle cx="552.0" cy="238.0" r="4.1"/><circle cx="557.0" cy="241.0" r="4.1"/><circle cx="549.0" cy="247.0" r="4.1"/><circle cx="549.0" cy="250.0" r="4.1"/><circle cx="534.6" cy="253.0" r="4.1"/><circle cx="529.4" cy="261.4" r="4.1"/><circle cx="565.0" cy="249.0" r="4.1"/><circle cx="569.0" cy="251.0" r="4.1"/><circle cx="575.0" cy="255.0" r="4.1"/><circle cx="578.0" cy="240.0" r="4.1"/><circle cx="587.0" cy="240.0" r="4.1"/><circle cx="593.0" cy="237.0" r="4.1"/><circle cx="596.0" cy="240.0" r="4.1"/><circle cx="620.0" cy="243.0" r="4.1"/><circle cx="626.0" cy="243.0" r="4.1"/><circle cx="652.0" cy="239.0" r="4.1"/><circle cx="663.0" cy="240.0" r="4.1"/><circle cx="671.0" cy="242.0" r="4.1"/><circle cx="674.0" cy="237.0" r="4.1"/><circle cx="683.4" cy="251.0" r="4.1"/><circle cx="688.0" cy="235.0" r="4.1"/><circle cx="691.4" cy="175.0" r="4.1"/><circle cx="703.0" cy="180.0" r="4.1"/><circle cx="711.0" cy="179.0" r="4.1"/><circle cx="718.6" cy="176.0" r="4.1"/><circle cx="724.6" cy="185.0" r="4.1"/><circle cx="732.0" cy="180.0" r="4.1"/><circle cx="737.4" cy="174.0" r="4.1"/><circle cx="742.6" cy="168.0" r="4.1"/><circle cx="743.4" cy="174.0" r="4.1"/><circle cx="749.0" cy="179.0" r="4.1"/><circle cx="752.6" cy="178.6" r="4.1"/><circle cx="757.0" cy="168.0" r="4.1"/><circle cx="761.4" cy="171.0" r="4.1"/><circle cx="767.0" cy="174.0" r="4.1"/><circle cx="773.0" cy="174.6" r="4.1"/><circle cx="756.0" cy="185.0" r="4.1"/><circle cx="754.0" cy="190.0" r="4.1"/><circle cx="742.6" cy="188.0" r="4.1"/><circle cx="733.4" cy="190.0" r="4.1"/><circle cx="734.0" cy="194.0" r="4.1"/><circle cx="770.0" cy="182.6" r="4.1"/><circle cx="784.6" cy="181.4" r="4.1"/><circle cx="782.0" cy="189.0" r="4.1"/><circle cx="774.0" cy="191.0" r="4.1"/><circle cx="789.0" cy="195.6" r="4.1"/><circle cx="797.0" cy="185.0" r="4.1"/><circle cx="807.4" cy="184.0" r="4.1"/><circle cx="812.0" cy="196.6" r="4.1"/><circle cx="691.0" cy="189.0" r="4.1"/><circle cx="697.0" cy="186.0" r="4.1"/><circle cx="695.0" cy="193.0" r="4.1"/><circle cx="705.0" cy="188.0" r="4.1"/><circle cx="709.0" cy="192.0" r="4.1"/><circle cx="715.0" cy="194.0" r="4.1"/><circle cx="701.0" cy="198.0" r="4.1"/><circle cx="707.0" cy="201.0" r="4.1"/><circle cx="718.0" cy="200.0" r="4.1"/><circle cx="724.0" cy="199.0" r="4.1"/><circle cx="721.0" cy="205.0" r="4.1"/><circle cx="729.0" cy="201.0" r="4.1"/><circle cx="737.0" cy="198.0" r="4.1"/><circle cx="741.0" cy="201.0" r="4.1"/><circle cx="739.0" cy="207.0" r="4.1"/><circle cx="744.0" cy="207.0" r="4.1"/><circle cx="751.0" cy="205.0" r="4.1"/><circle cx="757.0" cy="197.0" r="4.1"/><circle cx="764.0" cy="200.0" r="4.1"/><circle cx="769.0" cy="202.0" r="4.1"/><circle cx="777.0" cy="203.0" r="4.1"/><circle cx="772.0" cy="207.0" r="4.1"/><circle cx="777.0" cy="212.0" r="4.1"/><circle cx="784.0" cy="211.0" r="4.1"/><circle cx="786.0" cy="218.0" r="4.1"/><circle cx="770.0" cy="213.0" r="4.1"/><circle cx="758.0" cy="212.0" r="4.1"/><circle cx="755.0" cy="217.0" r="4.1"/><circle cx="693.0" cy="209.0" r="4.1"/><circle cx="695.0" cy="218.0" r="4.1"/><circle cx="708.0" cy="208.0" r="4.1"/><circle cx="709.0" cy="219.0" r="4.1"/><circle cx="717.0" cy="220.0" r="4.1"/><circle cx="724.0" cy="209.0" r="4.1"/><circle cx="725.0" cy="218.0" r="4.1"/><circle cx="731.0" cy="222.0" r="4.1"/><circle cx="739.0" cy="218.0" r="4.1"/><circle cx="747.0" cy="216.0" r="4.1"/><circle cx="748.0" cy="222.0" r="4.1"/><circle cx="754.0" cy="226.0" r="4.1"/><circle cx="760.0" cy="225.0" r="4.1"/><circle cx="742.0" cy="227.4" r="4.1"/><circle cx="807.0" cy="218.6" r="4.1"/><circle cx="822.0" cy="214.6" r="4.1"/><circle cx="821.4" cy="225.6" r="4.1"/><circle cx="794.6" cy="231.4" r="4.1"/><circle cx="691.0" cy="225.0" r="4.1"/><circle cx="690.6" cy="233.0" r="4.1"/><circle cx="698.0" cy="226.0" r="4.1"/><circle cx="704.0" cy="230.0" r="4.1"/><circle cx="711.0" cy="231.0" r="4.1"/><circle cx="710.0" cy="237.0" r="4.1"/><circle cx="718.0" cy="240.0" r="4.1"/><circle cx="729.0" cy="236.6" r="4.1"/><circle cx="697.0" cy="242.0" r="4.1"/><circle cx="705.0" cy="246.0" r="4.1"/><circle cx="720.0" cy="244.6" r="4.1"/><circle cx="723.0" cy="250.0" r="4.1"/><circle cx="726.0" cy="249.0" r="4.1"/><circle cx="754.0" cy="246.0" r="4.1"/><circle cx="758.0" cy="257.0" r="4.1"/><circle cx="810.0" cy="261.6" r="4.1"/><circle cx="303.0" cy="284.4" r="4.1"/><circle cx="322.0" cy="289.0" r="4.1"/><circle cx="331.0" cy="291.0" r="4.1"/><circle cx="218.6" cy="300.4" r="4.1"/><circle cx="234.6" cy="302.0" r="4.1"/><circle cx="263.0" cy="305.0" r="4.1"/><circle cx="269.4" cy="311.0" r="4.1"/><circle cx="295.6" cy="303.4" r="4.1"/><circle cx="325.0" cy="301.0" r="4.1"/><circle cx="204.0" cy="319.6" r="4.1"/><circle cx="215.0" cy="326.0" r="4.1"/><circle cx="208.6" cy="331.0" r="4.1"/><circle cx="218.6" cy="331.0" r="4.1"/><circle cx="236.0" cy="321.0" r="4.1"/><circle cx="243.0" cy="317.0" r="4.1"/><circle cx="247.0" cy="315.0" r="4.1"/><circle cx="237.0" cy="329.0" r="4.1"/><circle cx="219.0" cy="340.4" r="4.1"/><circle cx="252.0" cy="355.0" r="4.1"/><circle cx="264.0" cy="347.0" r="4.1"/><circle cx="259.0" cy="348.0" r="4.1"/><circle cx="303.0" cy="324.0" r="4.1"/><circle cx="307.0" cy="321.0" r="4.1"/><circle cx="201.4" cy="362.0" r="4.1"/><circle cx="223.0" cy="370.0" r="4.1"/><circle cx="220.6" cy="375.0" r="4.1"/><circle cx="201.4" cy="401.0" r="4.1"/><circle cx="200.0" cy="408.0" r="4.1"/><circle cx="334.0" cy="291.0" r="4.1"/><circle cx="356.6" cy="287.0" r="4.1"/><circle cx="383.4" cy="289.0" r="4.1"/><circle cx="339.0" cy="317.0" r="4.1"/><circle cx="346.0" cy="315.0" r="4.1"/><circle cx="347.0" cy="310.0" r="4.1"/><circle cx="358.0" cy="313.0" r="4.1"/><circle cx="375.4" cy="310.0" r="4.1"/><circle cx="367.0" cy="195.0" r="4.1"/><circle cx="366.0" cy="199.0" r="4.1"/><circle cx="370.0" cy="200.0" r="4.1"/><circle cx="368.0" cy="204.0" r="4.1"/><circle cx="373.0" cy="206.0" r="4.1"/><circle cx="377.0" cy="205.0" r="4.1"/><circle cx="381.0" cy="206.0" r="4.1"/><circle cx="375.0" cy="210.0" r="4.1"/><circle cx="381.0" cy="211.0" r="4.1"/><circle cx="376.0" cy="215.0" r="4.1"/><circle cx="380.0" cy="217.0" r="4.1"/><circle cx="378.0" cy="221.0" r="4.1"/><circle cx="381.0" cy="224.0" r="4.1"/><circle cx="383.0" cy="227.0" r="4.1"/><circle cx="385.0" cy="232.0" r="4.1"/><circle cx="387.0" cy="234.0" r="4.1"/><circle cx="363.0" cy="218.0" r="4.1"/><circle cx="365.0" cy="222.0" r="4.1"/><circle cx="361.0" cy="225.0" r="4.1"/><circle cx="355.0" cy="223.0" r="4.1"/><circle cx="350.0" cy="224.0" r="4.1"/><circle cx="353.0" cy="230.0" r="4.1"/><circle cx="346.0" cy="230.0" r="4.1"/><circle cx="341.0" cy="226.0" r="4.1"/><circle cx="339.0" cy="229.0" r="4.1"/><circle cx="335.0" cy="227.0" r="4.1"/><circle cx="398.0" cy="218.0" r="4.1"/><circle cx="403.0" cy="216.0" r="4.1"/><circle cx="407.0" cy="218.0" r="4.1"/><circle cx="409.0" cy="222.0" r="4.1"/><circle cx="403.0" cy="223.0" r="4.1"/><circle cx="395.0" cy="222.0" r="4.1"/><circle cx="401.0" cy="225.0" r="4.1"/><circle cx="413.0" cy="216.0" r="4.1"/><circle cx="417.0" cy="213.0" r="4.1"/><circle cx="411.0" cy="210.0" r="4.1"/><circle cx="395.0" cy="232.0" r="4.1"/><circle cx="393.0" cy="236.0" r="4.1"/><circle cx="389.0" cy="239.0" r="4.1"/><circle cx="403.0" cy="238.0" r="4.1"/><circle cx="405.0" cy="242.0" r="4.1"/><circle cx="397.0" cy="200.0" r="4.1"/><circle cx="407.0" cy="197.0" r="4.1"/><circle cx="201.2" cy="361.9" r="4.1"/><circle cx="199.9" cy="372.1" r="4.1"/><circle cx="223.6" cy="370.2" r="4.1"/><circle cx="221.7" cy="376.0" r="4.1"/><circle cx="202.5" cy="400.3" r="4.1"/><circle cx="199.9" cy="409.2" r="4.1"/><circle cx="189.7" cy="417.5" r="4.1"/><circle cx="190.3" cy="425.9" r="4.1"/></g>
<g fill="#ff7f0e" fill-opacity="0.85"><circle cx="598.7" cy="279.3" r="4.1"/><circle cx="233.2" cy="338.5" r="4.1"/><circle cx="356.0" cy="306.0" r="4.1"/><circle cx="593.8" cy="276.7" r="4.1"/><circle cx="221.1" cy="367.9" r="4.1"/><circle cx="734.4" cy="272.5" r="4.1"/><circle cx="470.9" cy="288.5" r="4.1"/><circle cx="267.5" cy="335.6" r="4.1"/><circle cx="466.2" cy="283.8" r="4.1"/><circle cx="228.9" cy="361.2" r="4.1"/><circle cx="281.3" cy="326.9" r="4.1"/><circle cx="705.9" cy="270.4" r="4.1"/><circle cx="496.5" cy="285.5" r="4.1"/><circle cx="841.0" cy="265.0" r="4.1"/><circle cx="213.1" cy="368.7" r="4.1"/><circle cx="599.8" cy="277.2" r="4.1"/><circle cx="467.5" cy="286.7" r="4.1"/><circle cx="465.8" cy="284.5" r="4.1"/><circle cx="768.5" cy="268.9" r="4.1"/><circle cx="376.3" cy="308.7" r="4.1"/><circle cx="744.5" cy="273.0" r="4.1"/><circle cx="487.3" cy="282.1" r="4.1"/><circle cx="815.9" cy="266.5" r="4.1"/><circle cx="580.6" cy="276.3" r="4.1"/><circle cx="236.0" cy="352.4" r="4.1"/><circle cx="323.2" cy="325.8" r="4.1"/><circle cx="337.9" cy="307.2" r="4.1"/><circle cx="394.4" cy="302.7" r="4.1"/><circle cx="519.6" cy="280.0" r="4.1"/><circle cx="218.8" cy="365.1" r="4.1"/><circle cx="402.8" cy="298.1" r="4.1"/><circle cx="192.6" cy="394.7" r="4.1"/><circle cx="193.4" cy="409.8" r="4.1"/><circle cx="261.0" cy="341.4" r="4.1"/><circle cx="445.5" cy="296.9" r="4.1"/><circle cx="585.8" cy="276.9" r="4.1"/><circle cx="715.7" cy="267.4" r="4.1"/><circle cx="302.2" cy="327.5" r="4.1"/><circle cx="417.7" cy="293.6" r="4.1"/><circle cx="673.9" cy="269.3" r="4.1"/><circle cx="416.3" cy="294.4" r="4.1"/><circle cx="273.0" cy="340.3" r="4.1"/><circle cx="371.2" cy="300.8" r="4.1"/><circle cx="716.5" cy="272.8" r="4.1"/><circle cx="350.2" cy="305.6" r="4.1"/><circle cx="490.4" cy="285.6" r="4.1"/><circle cx="378.1" cy="305.8" r="4.1"/><circle cx="504.4" cy="284.0" r="4.1"/><circle cx="767.0" cy="270.4" r="4.1"/><circle cx="196.3" cy="386.9" r="4.1"/><circle cx="230.9" cy="340.2" r="4.1"/><circle cx="325.7" cy="311.8" r="4.1"/><circle cx="438.4" cy="288.4" r="4.1"/><circle cx="828.8" cy="266.8" r="4.1"/><circle cx="338.5" cy="312.3" r="4.1"/><circle cx="652.7" cy="271.3" r="4.1"/><circle cx="334.8" cy="308.5" r="4.1"/><circle cx="458.2" cy="290.5" r="4.1"/><circle cx="340.5" cy="311.1" r="4.1"/><circle cx="748.2" cy="272.7" r="4.1"/><circle cx="302.3" cy="317.0" r="4.1"/><circle cx="263.1" cy="328.6" r="4.1"/><circle cx="516.1" cy="285.3" r="4.1"/><circle cx="280.4" cy="326.6" r="4.1"/><circle cx="662.2" cy="273.7" r="4.1"/><circle cx="318.0" cy="324.5" r="4.1"/><circle cx="298.5" cy="325.2" r="4.1"/><circle cx="512.7" cy="286.9" r="4.1"/><circle cx="297.0" cy="317.9" r="4.1"/><circle cx="859.6" cy="263.5" r="4.1"/><circle cx="291.5" cy="315.7" r="4.1"/><circle cx="316.5" cy="327.8" r="4.1"/><circle cx="342.5" cy="305.3" r="4.1"/><circle cx="348.9" cy="314.4" r="4.1"/><circle cx="243.0" cy="342.2" r="4.1"/><circle cx="498.7" cy="282.1" r="4.1"/><circle cx="563.9" cy="280.7" r="4.1"/><circle cx="310.8" cy="317.6" r="4.1"/><circle cx="771.0" cy="266.9" r="4.1"/><circle cx="844.5" cy="265.5" r="4.1"/><circle cx="257.0" cy="348.6" r="4.1"/><circle cx="286.6" cy="321.7" r="4.1"/><circle cx="270.4" cy="327.6" r="4.1"/><circle cx="638.2" cy="277.2" r="4.1"/><circle cx="309.9" cy="318.2" r="4.1"/><circle cx="357.2" cy="308.4" r="4.1"/><circle cx="429.0" cy="290.5" r="4.1"/><circle cx="463.7" cy="286.8" r="4.1"/><circle cx="703.5" cy="267.9" r="4.1"/><circle cx="697.2" cy="269.3" r="4.1"/><circle cx="276.4" cy="337.3" r="4.1"/><circle cx="776.6" cy="273.6" r="4.1"/><circle cx="531.2" cy="285.0" r="4.1"/><circle cx="367.1" cy="305.0" r="4.1"/><circle cx="235.8" cy="352.5" r="4.1"/><circle cx="205.2" cy="385.8" r="4.1"/><circle cx="525.3" cy="277.8" r="4.1"/><circle cx="822.5" cy="268.4" r="4.1"/><circle cx="566.6" cy="281.3" r="4.1"/><circle cx="281.6" cy="326.4" r="4.1"/><circle cx="464.4" cy="289.9" r="4.1"/><circle cx="592.3" cy="274.2" r="4.1"/><circle cx="268.2" cy="326.5" r="4.1"/><circle cx="583.7" cy="277.4" r="4.1"/><circle cx="472.6" cy="283.6" r="4.1"/><circle cx="821.1" cy="266.6" r="4.1"/><circle cx="401.3" cy="299.2" r="4.1"/><circle cx="820.9" cy="268.8" r="4.1"/><circle cx="489.6" cy="282.2" r="4.1"/><circle cx="656.5" cy="272.3" r="4.1"/><circle cx="632.4" cy="274.4" r="4.1"/><circle cx="259.7" cy="323.3" r="4.1"/><circle cx="299.1" cy="317.1" r="4.1"/><circle cx="511.2" cy="287.1" r="4.1"/><circle cx="788.2" cy="269.4" r="4.1"/><circle cx="698.1" cy="268.7" r="4.1"/><circle cx="289.1" cy="331.3" r="4.1"/><circle cx="200.2" cy="391.3" r="4.1"/><circle cx="559.5" cy="279.1" r="4.1"/><circle cx="315.5" cy="318.7" r="4.1"/><circle cx="296.4" cy="312.5" r="4.1"/><circle cx="391.3" cy="296.2" r="4.1"/><circle cx="265.4" cy="336.5" r="4.1"/><circle cx="617.3" cy="277.7" r="4.1"/><circle cx="721.5" cy="272.1" r="4.1"/><circle cx="321.9" cy="320.3" r="4.1"/><circle cx="754.6" cy="269.2" r="4.1"/><circle cx="440.9" cy="289.7" r="4.1"/><circle cx="321.7" cy="315.2" r="4.1"/><circle cx="202.2" cy="381.5" r="4.1"/><circle cx="303.2" cy="318.7" r="4.1"/><circle cx="314.2" cy="329.7" r="4.1"/><circle cx="664.5" cy="271.0" r="4.1"/><circle cx="675.7" cy="270.1" r="4.1"/><circle cx="226.6" cy="351.7" r="4.1"/><circle cx="693.0" cy="268.2" r="4.1"/><circle cx="510.3" cy="284.6" r="4.1"/><circle cx="420.6" cy="291.5" r="4.1"/><circle cx="590.0" cy="275.5" r="4.1"/><circle cx="294.4" cy="334.4" r="4.1"/><circle cx="220.8" cy="351.4" r="4.1"/><circle cx="690.6" cy="270.9" r="4.1"/><circle cx="218.7" cy="374.3" r="4.1"/><circle cx="634.8" cy="272.7" r="4.1"/><circle cx="612.9" cy="276.6" r="4.1"/><circle cx="658.1" cy="275.4" r="4.1"/><circle cx="481.2" cy="281.4" r="4.1"/><circle cx="400.3" cy="297.9" r="4.1"/><circle cx="330.8" cy="313.4" r="4.1"/><circle cx="249.3" cy="333.3" r="4.1"/><circle cx="541.2" cy="281.4" r="4.1"/><circle cx="309.7" cy="330.6" r="4.1"/><circle cx="739.3" cy="272.4" r="4.1"/><circle cx="692.7" cy="272.4" r="4.1"/><circle cx="190.2" cy="406.8" r="4.1"/><circle cx="208.9" cy="362.1" r="4.1"/><circle cx="523.8" cy="282.6" r="4.1"/><circle cx="307.6" cy="332.9" r="4.1"/><circle cx="261.4" cy="331.6" r="4.1"/><circle cx="537.3" cy="278.0" r="4.1"/><circle cx="192.8" cy="415.0" r="4.1"/><circle cx="626.6" cy="274.2" r="4.1"/><circle cx="468.5" cy="286.2" r="4.1"/><circle cx="208.0" cy="373.2" r="4.1"/><circle cx="718.4" cy="273.1" r="4.1"/><circle cx="505.3" cy="279.8" r="4.1"/><circle cx="772.6" cy="266.1" r="4.1"/><circle cx="441.2" cy="290.7" r="4.1"/><circle cx="292.0" cy="314.7" r="4.1"/><circle cx="322.7" cy="326.5" r="4.1"/><circle cx="210.8" cy="372.8" r="4.1"/><circle cx="217.4" cy="367.2" r="4.1"/><circle cx="691.3" cy="274.3" r="4.1"/><circle cx="382.3" cy="305.9" r="4.1"/><circle cx="570.7" cy="275.3" r="4.1"/><circle cx="360.8" cy="310.3" r="4.1"/><circle cx="755.1" cy="268.2" r="4.1"/><circle cx="722.9" cy="271.6" r="4.1"/><circle cx="300.7" cy="330.0" r="4.1"/><circle cx="190.6" cy="414.0" r="4.1"/><circle cx="280.1" cy="336.4" r="4.1"/><circle cx="198.5" cy="385.4" r="4.1"/><circle cx="702.2" cy="268.4" r="4.1"/><circle cx="660.7" cy="270.5" r="4.1"/><circle cx="586.8" cy="275.6" r="4.1"/><circle cx="436.9" cy="293.5" r="4.1"/><circle cx="437.1" cy="297.6" r="4.1"/><circle cx="534.8" cy="277.3" r="4.1"/><circle cx="605.3" cy="274.3" r="4.1"/><circle cx="645.6" cy="272.6" r="4.1"/><circle cx="305.9" cy="322.3" r="4.1"/><circle cx="301.7" cy="333.2" r="4.1"/><circle cx="229.3" cy="342.3" r="4.1"/><circle cx="397.0" cy="304.8" r="4.1"/><circle cx="329.5" cy="322.1" r="4.1"/><circle cx="476.8" cy="288.8" r="4.1"/><circle cx="266.5" cy="331.2" r="4.1"/><circle cx="801.8" cy="271.5" r="4.1"/><circle cx="333.9" cy="310.4" r="4.1"/><circle cx="244.4" cy="331.1" r="4.1"/><circle cx="493.7" cy="287.3" r="4.1"/><circle cx="554.6" cy="275.8" r="4.1"/><circle cx="273.1" cy="338.6" r="4.1"/><circle cx="775.5" cy="268.6" r="4.1"/><circle cx="613.8" cy="276.1" r="4.1"/><circle cx="520.3" cy="280.8" r="4.1"/><circle cx="781.5" cy="272.5" r="4.1"/><circle cx="746.8" cy="272.0" r="4.1"/><circle cx="778.4" cy="273.3" r="4.1"/><circle cx="574.4" cy="278.1" r="4.1"/><circle cx="825.1" cy="268.2" r="4.1"/><circle cx="712.4" cy="268.6" r="4.1"/><circle cx="251.9" cy="337.0" r="4.1"/><circle cx="707.6" cy="269.9" r="4.1"/><circle cx="461.2" cy="291.6" r="4.1"/><circle cx="790.9" cy="267.8" r="4.1"/><circle cx="708.6" cy="273.4" r="4.1"/><circle cx="251.1" cy="341.0" r="4.1"/><circle cx="700.7" cy="267.8" r="4.1"/><circle cx="546.4" cy="278.3" r="4.1"/><circle cx="812.6" cy="267.8" r="4.1"/><circle cx="316.1" cy="329.7" r="4.1"/><circle cx="345.4" cy="314.5" r="4.1"/><circle cx="364.7" cy="304.9" r="4.1"/><circle cx="639.4" cy="274.4" r="4.1"/><circle cx="431.1" cy="299.9" r="4.1"/><circle cx="503.2" cy="284.8" r="4.1"/><circle cx="622.6" cy="273.8" r="4.1"/><circle cx="410.1" cy="299.7" r="4.1"/><circle cx="522.2" cy="282.8" r="4.1"/><circle cx="304.8" cy="325.1" r="4.1"/><circle cx="291.8" cy="324.7" r="4.1"/><circle cx="413.1" cy="301.7" r="4.1"/><circle cx="223.1" cy="354.2" r="4.1"/><circle cx="310.8" cy="317.4" r="4.1"/><circle cx="667.7" cy="270.6" r="4.1"/><circle cx="732.3" cy="272.7" r="4.1"/><circle cx="627.2" cy="273.2" r="4.1"/><circle cx="446.6" cy="291.7" r="4.1"/><circle cx="671.3" cy="274.1" r="4.1"/><circle cx="223.9" cy="368.2" r="4.1"/><circle cx="197.7" cy="409.3" r="4.1"/><circle cx="757.3" cy="267.7" r="4.1"/><circle cx="243.3" cy="352.6" r="4.1"/><circle cx="762.0" cy="274.0" r="4.1"/><circle cx="618.8" cy="273.4" r="4.1"/><circle cx="219.3" cy="364.8" r="4.1"/><circle cx="741.8" cy="267.9" r="4.1"/><circle cx="509.9" cy="283.4" r="4.1"/><circle cx="194.7" cy="396.2" r="4.1"/><circle cx="595.5" cy="275.4" r="4.1"/><circle cx="747.3" cy="274.0" r="4.1"/><circle cx="192.8" cy="402.4" r="4.1"/><circle cx="388.5" cy="303.1" r="4.1"/><circle cx="655.6" cy="275.5" r="4.1"/><circle cx="283.4" cy="327.6" r="4.1"/><circle cx="362.6" cy="306.6" r="4.1"/><circle cx="620.3" cy="274.3" r="4.1"/><circle cx="596.4" cy="275.9" r="4.1"/><circle cx="661.2" cy="271.9" r="4.1"/><circle cx="643.8" cy="276.2" r="4.1"/><circle cx="376.4" cy="298.3" r="4.1"/><circle cx="239.9" cy="352.7" r="4.1"/><circle cx="390.4" cy="303.2" r="4.1"/><circle cx="306.1" cy="327.5" r="4.1"/><circle cx="287.8" cy="318.6" r="4.1"/><circle cx="389.6" cy="305.1" r="4.1"/><circle cx="740.6" cy="272.5" r="4.1"/><circle cx="808.9" cy="265.1" r="4.1"/><circle cx="263.1" cy="332.2" r="4.1"/><circle cx="616.2" cy="272.3" r="4.1"/><circle cx="624.6" cy="277.2" r="4.1"/><circle cx="241.9" cy="338.7" r="4.1"/><circle cx="383.8" cy="307.2" r="4.1"/><circle cx="699.3" cy="271.9" r="4.1"/><circle cx="202.8" cy="385.2" r="4.1"/><circle cx="778.0" cy="272.4" r="4.1"/><circle cx="329.9" cy="311.0" r="4.1"/><circle cx="480.3" cy="284.0" r="4.1"/><circle cx="216.4" cy="351.3" r="4.1"/><circle cx="728.4" cy="269.3" r="4.1"/><circle cx="610.8" cy="277.0" r="4.1"/><circle cx="479.3" cy="287.6" r="4.1"/><circle cx="670.4" cy="270.0" r="4.1"/><circle cx="753.9" cy="268.1" r="4.1"/><circle cx="288.9" cy="319.1" r="4.1"/><circle cx="689.6" cy="273.8" r="4.1"/><circle cx="325.7" cy="323.2" r="4.1"/><circle cx="427.6" cy="302.8" r="4.1"/><circle cx="317.3" cy="311.5" r="4.1"/><circle cx="552.9" cy="278.4" r="4.1"/><circle cx="285.3" cy="329.1" r="4.1"/><circle cx="211.2" cy="358.2" r="4.1"/><circle cx="372.2" cy="300.7" r="4.1"/><circle cx="426.3" cy="296.4" r="4.1"/><circle cx="347.5" cy="307.6" r="4.1"/><circle cx="730.3" cy="272.3" r="4.1"/><circle cx="351.4" cy="302.4" r="4.1"/><circle cx="628.4" cy="274.0" r="4.1"/><circle cx="773.8" cy="266.2" r="4.1"/><circle cx="814.5" cy="267.6" r="4.1"/><circle cx="229.9" cy="349.7" r="4.1"/><circle cx="414.1" cy="301.6" r="4.1"/><circle cx="475.4" cy="282.5" r="4.1"/><circle cx="341.9" cy="305.5" r="4.1"/><circle cx="214.0" cy="364.3" r="4.1"/><circle cx="366.6" cy="301.0" r="4.1"/><circle cx="486.5" cy="287.4" r="4.1"/><circle cx="201.6" cy="394.5" r="4.1"/><circle cx="502.3" cy="287.1" r="4.1"/><circle cx="206.7" cy="376.0" r="4.1"/><circle cx="749.1" cy="273.3" r="4.1"/><circle cx="590.0" cy="275.1" r="4.1"/><circle cx="331.5" cy="305.2" r="4.1"/><circle cx="655.0" cy="272.2" r="4.1"/><circle cx="257.3" cy="328.6" r="4.1"/><circle cx="436.0" cy="303.0" r="4.1"/><circle cx="418.5" cy="291.5" r="4.1"/><circle cx="579.2" cy="278.3" r="4.1"/><circle cx="779.3" cy="272.2" r="4.1"/><circle cx="193.0" cy="415.8" r="4.1"/><circle cx="271.1" cy="333.1" r="4.1"/><circle cx="222.0" cy="367.8" r="4.1"/><circle cx="195.0" cy="401.0" r="4.1"/><circle cx="429.2" cy="302.4" r="4.1"/><circle cx="265.2" cy="326.3" r="4.1"/><circle cx="384.8" cy="306.1" r="4.1"/><circle cx="189.7" cy="411.4" r="4.1"/><circle cx="432.4" cy="288.7" r="4.1"/><circle cx="756.4" cy="268.1" r="4.1"/><circle cx="793.0" cy="266.1" r="4.1"/><circle cx="320.6" cy="305.8" r="4.1"/><circle cx="220.7" cy="373.5" r="4.1"/><circle cx="591.3" cy="279.8" r="4.1"/><circle cx="760.3" cy="270.6" r="4.1"/><circle cx="608.4" cy="275.6" r="4.1"/><circle cx="529.9" cy="284.1" r="4.1"/><circle cx="412.5" cy="297.0" r="4.1"/><circle cx="368.7" cy="308.8" r="4.1"/><circle cx="680.1" cy="270.7" r="4.1"/><circle cx="224.8" cy="344.7" r="4.1"/><circle cx="244.9" cy="332.5" r="4.1"/><circle cx="433.8" cy="297.7" r="4.1"/><circle cx="719.5" cy="270.8" r="4.1"/><circle cx="588.5" cy="274.0" r="4.1"/><circle cx="759.1" cy="271.7" r="4.1"/><circle cx="558.9" cy="278.2" r="4.1"/><circle cx="766.9" cy="266.7" r="4.1"/><circle cx="261.1" cy="336.5" r="4.1"/><circle cx="555.2" cy="279.6" r="4.1"/><circle cx="352.9" cy="311.9" r="4.1"/><circle cx="838.3" cy="268.1" r="4.1"/><circle cx="663.1" cy="270.1" r="4.1"/><circle cx="575.0" cy="275.5" r="4.1"/><circle cx="227.9" cy="346.0" r="4.1"/><circle cx="284.7" cy="322.4" r="4.1"/><circle cx="227.2" cy="362.5" r="4.1"/><circle cx="681.6" cy="273.6" r="4.1"/><circle cx="214.5" cy="368.1" r="4.1"/><circle cx="571.7" cy="275.4" r="4.1"/><circle cx="365.3" cy="305.7" r="4.1"/><circle cx="576.6" cy="275.0" r="4.1"/><circle cx="234.1" cy="359.5" r="4.1"/><circle cx="409.4" cy="299.6" r="4.1"/><circle cx="679.6" cy="273.8" r="4.1"/><circle cx="725.5" cy="273.6" r="4.1"/><circle cx="720.5" cy="274.1" r="4.1"/><circle cx="308.6" cy="329.1" r="4.1"/><circle cx="535.3" cy="284.4" r="4.1"/><circle cx="453.8" cy="287.8" r="4.1"/><circle cx="363.7" cy="302.9" r="4.1"/><circle cx="533.0" cy="276.8" r="4.1"/><circle cx="581.6" cy="276.3" r="4.1"/><circle cx="676.5" cy="272.2" r="4.1"/><circle cx="550.1" cy="281.4" r="4.1"/><circle cx="319.5" cy="324.2" r="4.1"/><circle cx="723.0" cy="273.2" r="4.1"/><circle cx="484.8" cy="283.1" r="4.1"/><circle cx="292.7" cy="319.4" r="4.1"/><circle cx="459.3" cy="286.9" r="4.1"/><circle cx="545.4" cy="281.2" r="4.1"/><circle cx="569.3" cy="277.9" r="4.1"/><circle cx="724.6" cy="270.0" r="4.1"/><circle cx="750.4" cy="267.1" r="4.1"/><circle cx="197.6" cy="405.7" r="4.1"/><circle cx="258.4" cy="335.0" r="4.1"/><circle cx="239.4" cy="356.5" r="4.1"/><circle cx="327.8" cy="317.5" r="4.1"/><circle cx="201.0" cy="384.4" r="4.1"/><circle cx="567.8" cy="276.1" r="4.1"/><circle cx="659.7" cy="272.5" r="4.1"/><circle cx="345.0" cy="314.9" r="4.1"/><circle cx="536.7" cy="277.4" r="4.1"/><circle cx="411.9" cy="298.2" r="4.1"/><circle cx="824.4" cy="267.5" r="4.1"/><circle cx="206.4" cy="372.7" r="4.1"/><circle cx="688.2" cy="270.3" r="4.1"/><circle cx="651.8" cy="274.7" r="4.1"/><circle cx="457.9" cy="287.2" r="4.1"/><circle cx="194.8" cy="410.3" r="4.1"/><circle cx="560.6" cy="276.2" r="4.1"/><circle cx="212.3" cy="373.8" r="4.1"/><circle cx="653.1" cy="275.8" r="4.1"/><circle cx="234.8" cy="348.5" r="4.1"/><circle cx="444.8" cy="291.5" r="4.1"/><circle cx="297.6" cy="318.0" r="4.1"/><circle cx="799.6" cy="267.4" r="4.1"/><circle cx="763.5" cy="270.6" r="4.1"/><circle cx="191.2" cy="416.4" r="4.1"/><circle cx="338.7" cy="306.7" r="4.1"/><circle cx="774.2" cy="270.0" r="4.1"/><circle cx="685.6" cy="272.3" r="4.1"/><circle cx="473.3" cy="284.8" r="4.1"/><circle cx="245.5" cy="333.1" r="4.1"/><circle cx="225.2" cy="350.1" r="4.1"/><circle cx="495.4" cy="286.4" r="4.1"/><circle cx="322.2" cy="317.3" r="4.1"/><circle cx="294.0" cy="329.8" r="4.1"/><circle cx="393.5" cy="294.9" r="4.1"/><circle cx="286.7" cy="323.0" r="4.1"/><circle cx="704.4" cy="270.0" r="4.1"/><circle cx="324.1" cy="306.1" r="4.1"/><circle cx="312.7" cy="312.4" r="4.1"/><circle cx="313.9" cy="317.9" r="4.1"/><circle cx="686.4" cy="269.9" r="4.1"/><circle cx="521.0" cy="285.7" r="4.1"/><circle cx="196.3" cy="385.7" r="4.1"/><circle cx="623.0" cy="274.3" r="4.1"/><circle cx="501.0" cy="284.2" r="4.1"/><circle cx="319.8" cy="325.4" r="4.1"/><circle cx="275.9" cy="325.4" r="4.1"/><circle cx="477.8" cy="282.1" r="4.1"/><circle cx="650.2" cy="273.0" r="4.1"/><circle cx="240.2" cy="347.7" r="4.1"/><circle cx="294.9" cy="335.4" r="4.1"/><circle cx="669.7" cy="273.5" r="4.1"/><circle cx="192.0" cy="400.3" r="4.1"/><circle cx="204.1" cy="381.5" r="4.1"/><circle cx="353.4" cy="306.9" r="4.1"/><circle cx="334.5" cy="315.1" r="4.1"/><circle cx="232.6" cy="341.6" r="4.1"/><circle cx="197.8" cy="401.9" r="4.1"/><circle cx="274.7" cy="333.4" r="4.1"/><circle cx="602.4" cy="272.7" r="4.1"/><circle cx="478.4" cy="281.7" r="4.1"/><circle cx="242.7" cy="337.6" r="4.1"/><circle cx="236.9" cy="341.9" r="4.1"/><circle cx="683.6" cy="270.7" r="4.1"/><circle cx="582.5" cy="279.3" r="4.1"/><circle cx="649.4" cy="273.5" r="4.1"/><circle cx="190.1" cy="419.9" r="4.1"/><circle cx="231.5" cy="346.6" r="4.1"/><circle cx="346.1" cy="303.1" r="4.1"/><circle cx="252.6" cy="343.3" r="4.1"/><circle cx="713.2" cy="269.6" r="4.1"/><circle cx="606.6" cy="274.4" r="4.1"/><circle cx="474.1" cy="281.7" r="4.1"/><circle cx="397.3" cy="295.3" r="4.1"/><circle cx="709.1" cy="273.4" r="4.1"/><circle cx="565.6" cy="277.2" r="4.1"/><circle cx="377.7" cy="300.3" r="4.1"/><circle cx="336.4" cy="305.3" r="4.1"/><circle cx="471.4" cy="289.1" r="4.1"/><circle cx="547.9" cy="278.0" r="4.1"/><circle cx="425.2" cy="293.7" r="4.1"/><circle cx="221.3" cy="372.7" r="4.1"/><circle cx="842.3" cy="264.6" r="4.1"/><circle cx="556.8" cy="281.7" r="4.1"/><circle cx="403.6" cy="297.9" r="4.1"/><circle cx="542.7" cy="277.4" r="4.1"/><circle cx="311.8" cy="309.3" r="4.1"/><circle cx="614.8" cy="274.3" r="4.1"/><circle cx="443.4" cy="296.5" r="4.1"/><circle cx="827.0" cy="268.6" r="4.1"/><circle cx="611.1" cy="277.2" r="4.1"/><circle cx="395.1" cy="304.8" r="4.1"/><circle cx="634.0" cy="272.1" r="4.1"/><circle cx="499.5" cy="280.8" r="4.1"/><circle cx="597.4" cy="275.3" r="4.1"/><circle cx="695.2" cy="268.5" r="4.1"/><circle cx="343.5" cy="307.5" r="4.1"/><circle cx="540.4" cy="281.9" r="4.1"/><circle cx="198.3" cy="384.2" r="4.1"/><circle cx="230.6" cy="353.8" r="4.1"/><circle cx="648.0" cy="272.0" r="4.1"/><circle cx="264.9" cy="337.2" r="4.1"/><circle cx="758.2" cy="272.8" r="4.1"/><circle cx="314.7" cy="316.8" r="4.1"/><circle cx="279.6" cy="327.5" r="4.1"/><circle cx="307.5" cy="312.2" r="4.1"/><circle cx="607.8" cy="274.6" r="4.1"/><circle cx="564.4" cy="280.2" r="4.1"/><circle cx="277.7" cy="329.8" r="4.1"/><circle cx="454.3" cy="287.1" r="4.1"/><circle cx="195.1" cy="410.6" r="4.1"/><circle cx="701.9" cy="269.7" r="4.1"/><circle cx="714.6" cy="274.0" r="4.1"/><circle cx="673.0" cy="271.2" r="4.1"/><circle cx="765.4" cy="270.5" r="4.1"/><circle cx="288.2" cy="335.2" r="4.1"/><circle cx="637.2" cy="274.4" r="4.1"/><circle cx="674.1" cy="269.6" r="4.1"/><circle cx="572.8" cy="274.3" r="4.1"/><circle cx="271.5" cy="333.3" r="4.1"/><circle cx="840.1" cy="265.5" r="4.1"/><circle cx="240.6" cy="342.2" r="4.1"/><circle cx="782.8" cy="268.1" r="4.1"/><circle cx="657.9" cy="275.7" r="4.1"/><circle cx="272.1" cy="335.0" r="4.1"/><circle cx="682.8" cy="271.0" r="4.1"/><circle cx="250.1" cy="325.8" r="4.1"/><circle cx="208.6" cy="376.2" r="4.1"/><circle cx="797.2" cy="269.2" r="4.1"/><circle cx="497.5" cy="284.0" r="4.1"/><circle cx="253.7" cy="330.9" r="4.1"/><circle cx="646.5" cy="273.3" r="4.1"/><circle cx="278.1" cy="337.7" r="4.1"/><circle cx="568.2" cy="281.4" r="4.1"/><circle cx="255.1" cy="329.2" r="4.1"/><circle cx="323.3" cy="316.4" r="4.1"/><circle cx="231.2" cy="358.2" r="4.1"/><circle cx="375.7" cy="305.7" r="4.1"/><circle cx="508.3" cy="282.3" r="4.1"/><circle cx="706.8" cy="272.7" r="4.1"/><circle cx="784.4" cy="273.0" r="4.1"/><circle cx="469.4" cy="289.7" r="4.1"/><circle cx="313.6" cy="315.8" r="4.1"/><circle cx="275.0" cy="331.3" r="4.1"/><circle cx="315.6" cy="314.0" r="4.1"/><circle cx="361.8" cy="309.1" r="4.1"/><circle cx="380.0" cy="297.0" r="4.1"/><circle cx="518.4" cy="285.1" r="4.1"/><circle cx="268.5" cy="332.2" r="4.1"/><circle cx="434.7" cy="298.9" r="4.1"/><circle cx="640.0" cy="274.3" r="4.1"/><circle cx="508.0" cy="282.2" r="4.1"/><circle cx="727.9" cy="273.2" r="4.1"/><circle cx="381.2" cy="298.0" r="4.1"/><circle cx="830.7" cy="265.1" r="4.1"/><circle cx="648.1" cy="274.9" r="4.1"/><circle cx="630.3" cy="275.1" r="4.1"/><circle cx="335.7" cy="304.2" r="4.1"/><circle cx="557.1" cy="282.7" r="4.1"/><circle cx="252.1" cy="330.9" r="4.1"/><circle cx="514.9" cy="283.7" r="4.1"/><circle cx="833.0" cy="266.0" r="4.1"/><circle cx="339.5" cy="311.9" r="4.1"/><circle cx="354.8" cy="305.1" r="4.1"/><circle cx="215.9" cy="371.9" r="4.1"/><circle cx="331.2" cy="314.4" r="4.1"/><circle cx="254.4" cy="329.6" r="4.1"/><circle cx="526.9" cy="279.4" r="4.1"/><circle cx="679.0" cy="270.0" r="4.1"/><circle cx="355.5" cy="311.2" r="4.1"/><circle cx="837.6" cy="265.2" r="4.1"/><circle cx="270.5" cy="329.3" r="4.1"/><circle cx="421.8" cy="296.0" r="4.1"/><circle cx="300.9" cy="325.7" r="4.1"/><circle cx="222.1" cy="361.6" r="4.1"/><circle cx="332.1" cy="311.1" r="4.1"/><circle cx="246.1" cy="338.0" r="4.1"/><circle cx="423.6" cy="290.0" r="4.1"/><circle cx="642.0" cy="274.7" r="4.1"/><circle cx="631.9" cy="275.3" r="4.1"/><circle cx="328.5" cy="306.4" r="4.1"/><circle cx="406.6" cy="302.3" r="4.1"/><circle cx="551.8" cy="282.0" r="4.1"/><circle cx="358.3" cy="308.2" r="4.1"/><circle cx="807.5" cy="267.6" r="4.1"/><circle cx="539.6" cy="278.2" r="4.1"/><circle cx="762.4" cy="272.6" r="4.1"/><circle cx="259.8" cy="334.4" r="4.1"/><circle cx="304.8" cy="317.2" r="4.1"/><circle cx="253.5" cy="331.4" r="4.1"/><circle cx="578.1" cy="280.5" r="4.1"/><circle cx="736.9" cy="269.9" r="4.1"/><circle cx="450.5" cy="286.1" r="4.1"/><circle cx="619.6" cy="277.6" r="4.1"/><circle cx="439.4" cy="298.5" r="4.1"/><circle cx="210.1" cy="362.4" r="4.1"/><circle cx="462.1" cy="293.9" r="4.1"/><circle cx="795.7" cy="266.7" r="4.1"/><circle cx="255.9" cy="334.5" r="4.1"/><circle cx="826.9" cy="267.4" r="4.1"/><circle cx="386.4" cy="297.9" r="4.1"/><circle cx="278.2" cy="335.5" r="4.1"/><circle cx="447.9" cy="292.7" r="4.1"/><circle cx="562.4" cy="279.3" r="4.1"/><circle cx="408.2" cy="298.5" r="4.1"/><circle cx="735.4" cy="272.8" r="4.1"/><circle cx="326.0" cy="319.6" r="4.1"/><circle cx="528.8" cy="278.8" r="4.1"/><circle cx="752.9" cy="271.6" r="4.1"/><circle cx="308.7" cy="317.4" r="4.1"/><circle cx="224.1" cy="345.2" r="4.1"/><circle cx="460.6" cy="291.4" r="4.1"/><circle cx="517.9" cy="281.3" r="4.1"/><circle cx="668.0" cy="273.5" r="4.1"/><circle cx="538.8" cy="278.9" r="4.1"/><circle cx="448.2" cy="291.1" r="4.1"/><circle cx="694.2" cy="274.3" r="4.1"/><circle cx="203.9" cy="385.0" r="4.1"/><circle cx="711.4" cy="273.4" r="4.1"/><circle cx="533.5" cy="281.6" r="4.1"/><circle cx="733.1" cy="274.2" r="4.1"/><circle cx="783.1" cy="269.8" r="4.1"/><circle cx="349.9" cy="309.0" r="4.1"/><circle cx="731.4" cy="272.9" r="4.1"/><circle cx="726.0" cy="268.5" r="4.1"/><circle cx="644.8" cy="271.2" r="4.1"/><circle cx="630.0" cy="273.6" r="4.1"/><circle cx="451.4" cy="293.0" r="4.1"/><circle cx="213.3" cy="374.1" r="4.1"/><circle cx="834.2" cy="265.7" r="4.1"/><circle cx="301.9" cy="318.5" r="4.1"/><circle cx="199.5" cy="393.3" r="4.1"/><circle cx="751.5" cy="272.8" r="4.1"/><circle cx="805.1" cy="268.3" r="4.1"/><circle cx="330.5" cy="305.4" r="4.1"/><circle cx="385.3" cy="297.0" r="4.1"/><circle cx="359.5" cy="307.6" r="4.1"/><circle cx="340.0" cy="307.0" r="4.1"/><circle cx="198.7" cy="388.5" r="4.1"/><circle cx="601.1" cy="273.4" r="4.1"/><circle cx="584.4" cy="277.5" r="4.1"/><circle cx="256.8" cy="329.6" r="4.1"/><circle cx="262.8" cy="335.0" r="4.1"/><circle cx="241.3" cy="334.2" r="4.1"/><circle cx="483.7" cy="284.3" r="4.1"/><circle cx="399.4" cy="301.9" r="4.1"/><circle cx="717.6" cy="270.9" r="4.1"/><circle cx="267.6" cy="327.3" r="4.1"/><circle cx="298.1" cy="319.7" r="4.1"/><circle cx="688.0" cy="273.6" r="4.1"/><circle cx="810.8" cy="266.3" r="4.1"/><circle cx="398.8" cy="304.2" r="4.1"/><circle cx="219.6" cy="363.2" r="4.1"/><circle cx="667.0" cy="271.4" r="4.1"/><circle cx="452.0" cy="288.1" r="4.1"/><circle cx="273.9" cy="336.7" r="4.1"/><circle cx="635.4" cy="274.2" r="4.1"/><circle cx="455.5" cy="290.3" r="4.1"/><circle cx="387.6" cy="297.8" r="4.1"/><circle cx="482.2" cy="283.2" r="4.1"/><circle cx="729.3" cy="269.5" r="4.1"/><circle cx="743.9" cy="271.4" r="4.1"/><circle cx="600.1" cy="278.4" r="4.1"/><circle cx="615.0" cy="276.2" r="4.1"/><circle cx="260.4" cy="323.1" r="4.1"/><circle cx="549.0" cy="282.2" r="4.1"/><circle cx="258.7" cy="338.3" r="4.1"/><circle cx="530.0" cy="284.9" r="4.1"/><circle cx="250.7" cy="327.7" r="4.1"/><circle cx="245.5" cy="337.1" r="4.1"/><circle cx="205.9" cy="364.8" r="4.1"/><circle cx="684.0" cy="274.0" r="4.1"/><circle cx="769.7" cy="273.4" r="4.1"/><circle cx="435.7" cy="300.7" r="4.1"/><circle cx="456.7" cy="290.4" r="4.1"/><circle cx="816.2" cy="268.9" r="4.1"/><circle cx="257.5" cy="329.8" r="4.1"/><circle cx="494.9" cy="285.5" r="4.1"/><circle cx="621.3" cy="272.4" r="4.1"/><circle cx="442.4" cy="290.8" r="4.1"/><circle cx="290.3" cy="331.2" r="4.1"/><circle cx="266.7" cy="340.5" r="4.1"/><circle cx="301.6" cy="320.2" r="4.1"/><circle cx="594.0" cy="277.8" r="4.1"/><circle cx="209.6" cy="364.5" r="4.1"/><circle cx="246.3" cy="351.0" r="4.1"/><circle cx="710.8" cy="272.6" r="4.1"/><circle cx="422.2" cy="303.1" r="4.1"/><circle cx="207.8" cy="368.3" r="4.1"/><circle cx="262.3" cy="342.3" r="4.1"/><circle cx="544.0" cy="281.7" r="4.1"/><circle cx="189.4" cy="398.6" r="4.1"/><circle cx="513.9" cy="282.0" r="4.1"/><circle cx="745.2" cy="273.7" r="4.1"/><circle cx="587.8" cy="276.1" r="4.1"/><circle cx="282.1" cy="317.9" r="4.1"/><circle cx="485.8" cy="287.7" r="4.1"/><circle cx="243.3" cy="350.5" r="4.1"/><circle cx="738.1" cy="271.7" r="4.1"/><circle cx="636.2" cy="273.4" r="4.1"/><circle cx="312.3" cy="312.9" r="4.1"/><circle cx="404.1" cy="294.8" r="4.1"/><circle cx="320.8" cy="327.9" r="4.1"/><circle cx="677.2" cy="269.1" r="4.1"/><circle cx="293.9" cy="329.9" r="4.1"/><circle cx="501.4" cy="283.3" r="4.1"/><circle cx="793.6" cy="271.3" r="4.1"/><circle cx="295.7" cy="329.8" r="4.1"/><circle cx="282.3" cy="334.7" r="4.1"/><circle cx="665.7" cy="272.7" r="4.1"/><circle cx="279.3" cy="321.4" r="4.1"/><circle cx="527.6" cy="278.0" r="4.1"/><circle cx="430.7" cy="299.8" r="4.1"/><circle cx="407.3" cy="294.9" r="4.1"/><circle cx="796.3" cy="266.8" r="4.1"/><circle cx="488.9" cy="286.6" r="4.1"/><circle cx="604.8" cy="277.3" r="4.1"/><circle cx="373.5" cy="301.3" r="4.1"/><circle cx="306.9" cy="326.7" r="4.1"/><circle cx="770.3" cy="271.6" r="4.1"/><circle cx="419.7" cy="292.5" r="4.1"/><circle cx="561.1" cy="281.3" r="4.1"/><circle cx="506.0" cy="282.7" r="4.1"/><circle cx="374.9" cy="308.5" r="4.1"/><circle cx="203.5" cy="382.1" r="4.1"/><circle cx="449.3" cy="288.9" r="4.1"/><circle cx="839.3" cy="266.4" r="4.1"/><circle cx="742.5" cy="268.1" r="4.1"/><circle cx="424.0" cy="295.6" r="4.1"/><circle cx="269.3" cy="325.0" r="4.1"/><circle cx="217.7" cy="352.8" r="4.1"/><circle cx="548.3" cy="281.6" r="4.1"/><circle cx="248.1" cy="329.8" r="4.1"/><circle cx="737.0" cy="267.3" r="4.1"/><circle cx="333.8" cy="311.9" r="4.1"/><circle cx="238.3" cy="338.2" r="4.1"/><circle cx="249.4" cy="348.7" r="4.1"/><circle cx="337.0" cy="316.7" r="4.1"/><circle cx="226.9" cy="349.7" r="4.1"/><circle cx="415.6" cy="301.5" r="4.1"/><circle cx="780.1" cy="269.6" r="4.1"/><circle cx="199.2" cy="384.0" r="4.1"/><circle cx="573.2" cy="280.3" r="4.1"/><circle cx="553.5" cy="280.4" r="4.1"/><circle cx="609.4" cy="274.5" r="4.1"/><circle cx="544.7" cy="280.5" r="4.1"/><circle cx="405.4" cy="301.6" r="4.1"/><circle cx="212.5" cy="373.1" r="4.1"/><circle cx="237.0" cy="342.7" r="4.1"/><circle cx="641.1" cy="273.8" r="4.1"/><circle cx="696.0" cy="268.8" r="4.1"/><circle cx="195.6" cy="388.3" r="4.1"/><circle cx="380.8" cy="297.2" r="4.1"/><circle cx="764.0" cy="273.3" r="4.1"/><circle cx="247.6" cy="333.3" r="4.1"/><circle cx="491.1" cy="284.6" r="4.1"/><circle cx="369.2" cy="309.2" r="4.1"/><circle cx="215.2" cy="349.3" r="4.1"/><circle cx="337.8" cy="305.9" r="4.1"/><circle cx="524.4" cy="281.0" r="4.1"/><circle cx="303.6" cy="319.1" r="4.1"/><circle cx="289.5" cy="334.2" r="4.1"/><circle cx="392.7" cy="302.9" r="4.1"/><circle cx="515.1" cy="283.0" r="4.1"/><circle cx="319.0" cy="325.0" r="4.1"/><circle cx="625.9" cy="278.1" r="4.1"/><circle cx="327.7" cy="323.0" r="4.1"/><circle cx="193.1" cy="414.7" r="4.1"/><circle cx="823.3" cy="266.0" r="4.1"/><circle cx="577.6" cy="274.5" r="4.1"/><circle cx="284.8" cy="315.1" r="4.1"/><circle cx="492.0" cy="281.0" r="4.1"/><circle cx="603.5" cy="275.9" r="4.1"/><circle cx="311.0" cy="325.2" r="4.1"/><circle cx="370.5" cy="298.1" r="4.1"/><circle cx="332.0" cy="312.8" r="4.1"/><circle cx="235.3" cy="358.8" r="4.1"/><circle cx="276.5" cy="331.4" r="4.1"/><circle cx="228.4" cy="347.6" r="4.1"/></g>
<path d="M195.75,447.5 L195.75,385.42 L195.95,384.66 L196.15,383.91 L196.36,383.15 L196.58,382.39 L196.80,381.63 L197.03,380.87 L197.26,380.11 L197.50,379.35 L197.75,378.59 L198.01,377.84 L198.27,377.08 L198.54,376.32 L198.83,375.56 L199.11,374.80 L199.41,374.04 L199.72,373.28 L200.03,372.53 L200.36,371.77 L200.69,371.01 L201.04,370.25 L201.39,369.49 L201.76,368.73 L202.14,367.97 L202.52,367.21 L202.92,366.46 L203.33,365.70 L203.76,364.94 L204.20,364.18 L204.65,363.42 L205.11,362.66 L205.59,361.90 L206.08,361.15 L206.58,360.39 L207.11,359.63 L207.64,358.87 L208.20,358.11 L208.77,357.35 L209.35,356.59 L209.96,355.83 L210.58,355.08 L211.22,354.32 L211.88,353.56 L212.56,352.80 L213.26,352.04 L213.99,351.28 L214.73,350.52 L215.50,349.77 L216.28,349.01 L217.10,348.25 L217.93,347.49 L218.80,346.73 L219.68,345.97 L220.60,345.21 L221.54,344.45 L222.51,343.70 L223.51,342.94 L224.54,342.18 L225.60,341.42 L226.69,340.66 L227.82,339.90 L228.97,339.14 L230.17,338.38 L231.40,337.63 L232.66,336.87 L233.97,336.11 L235.31,335.35 L236.69,334.59 L238.12,333.83 L239.58,333.07 L241.10,332.32 L242.65,331.56 L244.26,330.80 L245.91,330.04 L247.61,329.28 L249.36,328.52 L251.17,327.76 L253.03,327.00 L254.94,326.25 L256.91,325.49 L258.94,324.73 L261.04,323.97 L263.19,323.21 L265.41,322.45 L267.70,321.69 L270.05,320.94 L272.48,320.18 L274.98,319.42 L277.55,318.66 L280.20,317.90 L282.93,317.14 L285.74,316.38 L288.64,315.62 L291.62,314.87 L294.69,314.11 L297.86,313.35 L301.12,312.59 L304.48,311.83 L307.93,311.07 L311.50,310.31 L315.16,309.56 L318.94,308.80 L322.84,308.04 L326.84,307.28 L330.97,306.52 L335.23,305.76 L339.61,305.00 L344.12,304.24 L348.77,303.49 L353.56,302.73 L358.49,301.97 L363.56,301.21 L368.80,300.45 L374.18,299.69 L379.73,298.93 L385.45,298.17 L391.34,297.42 L397.40,296.66 L403.65,295.90 L410.08,295.14 L416.71,294.38 L423.53,293.62 L430.56,292.86 L437.80,292.11 L445.26,291.35 L452.94,290.59 L460.85,289.83 L469.00,289.07 L477.40,288.31 L486.04,287.55 L494.95,286.79 L504.12,286.04 L513.57,285.28 L523.30,284.52 L533.32,283.76 L543.65,283.00 L554.28,282.24 L565.23,281.48 L576.51,280.73 L588.13,279.97 L600.10,279.21 L612.43,278.45 L625.12,277.69 L638.20,276.93 L651.67,276.17 L665.55,275.41 L679.84,274.66 L694.56,273.90 L709.72,273.14 L725.33,272.38 L741.42,271.62 L757.98,270.86 L775.05,270.10 L792.62,269.35 L810.72,268.59 L829.37,267.83 L848.58,267.07 L864.90,266.44" fill="none" stroke="#000" stroke-opacity="0.8" stroke-width="3.3" stroke-dasharray="10.3,4" stroke-dashoffset="3" clip-path="url(#ax)"/>
<rect x="155.5" y="149.0" width="709.5" height="295.5" fill="none" stroke="#000" stroke-width="1.8"/>
<line x1="189.20" y1="444.5" x2="189.20" y2="451.0" stroke="#000" stroke-width="1.6"/>
<line x1="324.34" y1="444.5" x2="324.34" y2="451.0" stroke="#000" stroke-width="1.6"/>
<line x1="459.48" y1="444.5" x2="459.48" y2="451.0" stroke="#000" stroke-width="1.6"/>
<line x1="594.62" y1="444.5" x2="594.62" y2="451.0" stroke="#000" stroke-width="1.6"/>
<line x1="729.76" y1="444.5" x2="729.76" y2="451.0" stroke="#000" stroke-width="1.6"/>
<line x1="864.90" y1="444.5" x2="864.90" y2="451.0" stroke="#000" stroke-width="1.6"/>
<line x1="149.0" y1="444.50" x2="155.5" y2="444.50" stroke="#000" stroke-width="1.6"/>
<line x1="151.7" y1="426.71" x2="155.5" y2="426.71" stroke="#000" stroke-width="1.2"/>
<line x1="151.7" y1="416.30" x2="155.5" y2="416.30" stroke="#000" stroke-width="1.2"/>
<line x1="151.7" y1="408.92" x2="155.5" y2="408.92" stroke="#000" stroke-width="1.2"/>
<line x1="151.7" y1="403.19" x2="155.5" y2="403.19" stroke="#000" stroke-width="1.2"/>
<line x1="151.7" y1="398.51" x2="155.5" y2="398.51" stroke="#000" stroke-width="1.2"/>
<line x1="151.7" y1="394.55" x2="155.5" y2="394.55" stroke="#000" stroke-width="1.2"/>
<line x1="151.7" y1="391.13" x2="155.5" y2="391.13" stroke="#000" stroke-width="1.2"/>
<line x1="151.7" y1="388.10" x2="155.5" y2="388.10" stroke="#000" stroke-width="1.2"/>
<line x1="149.0" y1="385.40" x2="155.5" y2="385.40" stroke="#000" stroke-width="1.6"/>
<line x1="151.7" y1="367.61" x2="155.5" y2="367.61" stroke="#000" stroke-width="1.2"/>
<line x1="151.7" y1="357.20" x2="155.5" y2="357.20" stroke="#000" stroke-width="1.2"/>
<line x1="151.7" y1="349.82" x2="155.5" y2="349.82" stroke="#000" stroke-width="1.2"/>
<line x1="151.7" y1="344.09" x2="155.5" y2="344.09" stroke="#000" stroke-width="1.2"/>
<line x1="151.7" y1="339.41" x2="155.5" y2="339.41" stroke="#000" stroke-width="1.2"/>
<line x1="151.7" y1="335.45" x2="155.5" y2="335.45" stroke="#000" stroke-width="1.2"/>
<line x1="151.7" y1="332.03" x2="155.5" y2="332.03" stroke="#000" stroke-width="1.2"/>
<line x1="151.7" y1="329.00" x2="155.5" y2="329.00" stroke="#000" stroke-width="1.2"/>
<line x1="149.0" y1="326.30" x2="155.5" y2="326.30" stroke="#000" stroke-width="1.6"/>
<line x1="151.7" y1="308.51" x2="155.5" y2="308.51" stroke="#000" stroke-width="1.2"/>
<line x1="151.7" y1="298.10" x2="155.5" y2="298.10" stroke="#000" stroke-width="1.2"/>
<line x1="151.7" y1="290.72" x2="155.5" y2="290.72" stroke="#000" stroke-width="1.2"/>
<line x1="151.7" y1="284.99" x2="155.5" y2="284.99" stroke="#000" stroke-width="1.2"/>
<line x1="151.7" y1="280.31" x2="155.5" y2="280.31" stroke="#000" stroke-width="1.2"/>
<line x1="151.7" y1="276.35" x2="155.5" y2="276.35" stroke="#000" stroke-width="1.2"/>
<line x1="151.7" y1="272.93" x2="155.5" y2="272.93" stroke="#000" stroke-width="1.2"/>
<line x1="151.7" y1="269.90" x2="155.5" y2="269.90" stroke="#000" stroke-width="1.2"/>
<line x1="149.0" y1="267.20" x2="155.5" y2="267.20" stroke="#000" stroke-width="1.6"/>
<line x1="151.7" y1="249.41" x2="155.5" y2="249.41" stroke="#000" stroke-width="1.2"/>
<line x1="151.7" y1="239.00" x2="155.5" y2="239.00" stroke="#000" stroke-width="1.2"/>
<line x1="151.7" y1="231.62" x2="155.5" y2="231.62" stroke="#000" stroke-width="1.2"/>
<line x1="151.7" y1="225.89" x2="155.5" y2="225.89" stroke="#000" stroke-width="1.2"/>
<line x1="151.7" y1="221.21" x2="155.5" y2="221.21" stroke="#000" stroke-width="1.2"/>
<line x1="151.7" y1="217.25" x2="155.5" y2="217.25" stroke="#000" stroke-width="1.2"/>
<line x1="151.7" y1="213.83" x2="155.5" y2="213.83" stroke="#000" stroke-width="1.2"/>
<line x1="151.7" y1="210.80" x2="155.5" y2="210.80" stroke="#000" stroke-width="1.2"/>
<line x1="149.0" y1="208.10" x2="155.5" y2="208.10" stroke="#000" stroke-width="1.6"/>
<line x1="151.7" y1="190.31" x2="155.5" y2="190.31" stroke="#000" stroke-width="1.2"/>
<line x1="151.7" y1="179.90" x2="155.5" y2="179.90" stroke="#000" stroke-width="1.2"/>
<line x1="151.7" y1="172.52" x2="155.5" y2="172.52" stroke="#000" stroke-width="1.2"/>
<line x1="151.7" y1="166.79" x2="155.5" y2="166.79" stroke="#000" stroke-width="1.2"/>
<line x1="151.7" y1="162.11" x2="155.5" y2="162.11" stroke="#000" stroke-width="1.2"/>
<line x1="151.7" y1="158.15" x2="155.5" y2="158.15" stroke="#000" stroke-width="1.2"/>
<line x1="151.7" y1="154.73" x2="155.5" y2="154.73" stroke="#000" stroke-width="1.2"/>
<line x1="151.7" y1="151.70" x2="155.5" y2="151.70" stroke="#000" stroke-width="1.2"/>
<line x1="149.0" y1="149.00" x2="155.5" y2="149.00" stroke="#000" stroke-width="1.6"/>
<g transform="translate(189.20,0) scale(1.0,1)"><text x="0" y="477" text-anchor="middle" font-size="30" stroke="#000" stroke-width="0.6">0</text></g>
<g transform="translate(324.34,0) scale(1.0,1)"><text x="0" y="477" text-anchor="middle" font-size="30" stroke="#000" stroke-width="0.6">20</text></g>
<g transform="translate(459.48,0) scale(1.0,1)"><text x="0" y="477" text-anchor="middle" font-size="30" stroke="#000" stroke-width="0.6">40</text></g>
<g transform="translate(594.62,0) scale(1.0,1)"><text x="0" y="477" text-anchor="middle" font-size="30" stroke="#000" stroke-width="0.6">60</text></g>
<g transform="translate(729.76,0) scale(1.0,1)"><text x="0" y="477" text-anchor="middle" font-size="30" stroke="#000" stroke-width="0.6">80</text></g>
<g transform="translate(864.90,0) scale(0.95,1)"><text x="0" y="477" text-anchor="middle" font-size="30" stroke="#000" stroke-width="0.6">100</text></g>
<g transform="translate(139.5,0) scale(0.91,1)"><text x="0" y="454.00" text-anchor="end" font-size="30" stroke="#000" stroke-width="0.6">10<tspan font-size="21" dx="0.5" dy="-8.7">−3</tspan></text></g>
<g transform="translate(139.5,0) scale(0.91,1)"><text x="0" y="394.90" text-anchor="end" font-size="30" stroke="#000" stroke-width="0.6">10<tspan font-size="21" dx="0.5" dy="-8.7">−2</tspan></text></g>
<g transform="translate(139.5,0) scale(0.91,1)"><text x="0" y="335.80" text-anchor="end" font-size="30" stroke="#000" stroke-width="0.6">10<tspan font-size="21" dx="0.5" dy="-8.7">−1</tspan></text></g>
<g transform="translate(139.5,0) scale(0.91,1)"><text x="0" y="276.70" text-anchor="end" font-size="30" stroke="#000" stroke-width="0.6">10<tspan font-size="21" dx="0.5" dy="-8.7">0</tspan></text></g>
<g transform="translate(139.5,0) scale(0.91,1)"><text x="0" y="217.60" text-anchor="end" font-size="30" stroke="#000" stroke-width="0.6">10<tspan font-size="21" dx="0.5" dy="-8.7">1</tspan></text></g>
<g transform="translate(139.5,0) scale(0.91,1)"><text x="0" y="158.50" text-anchor="end" font-size="30" stroke="#000" stroke-width="0.6">10<tspan font-size="21" dx="0.5" dy="-8.7">2</tspan></text></g>
<text x="498.5" y="521" text-anchor="middle" font-size="29.5" letter-spacing="0.35" stroke="#000" stroke-width="0.6">Charge [pC]</text>
<text transform="translate(36.6,301) rotate(-90)" text-anchor="middle" font-size="29.5" letter-spacing="0.6" stroke="#000" stroke-width="0.6">Undulator radiation</text>
<text transform="translate(71.5,300) rotate(-90)" text-anchor="middle" font-size="29.5" letter-spacing="0" stroke="#000" stroke-width="0.6">pulse energy [nJ]</text>
<rect x="453.7" y="317.7" width="246.3" height="106.3" rx="5" ry="5" fill="#fff" fill-opacity="0.8" stroke="#cccccc" stroke-width="1.8"/>
<circle cx="487.1" cy="338.7" r="4" fill="#1a80c6" fill-opacity="0.92"/>
<circle cx="487.1" cy="367.6" r="4" fill="#ff7f0e" fill-opacity="0.9"/>
<line x1="465.1" y1="396.7" x2="509.8" y2="396.7" stroke="#000" stroke-opacity="0.8" stroke-width="3.3" stroke-dasharray="10.3,4"/>
<text x="532" y="348.3" font-size="28.5" stroke="#000" stroke-width="0.6">no spoiler</text>
<text x="532" y="377.2" font-size="28.5" stroke="#000" stroke-width="0.6">with spoiler</text>
<text x="532" y="406" font-size="28.5" stroke="#000" stroke-width="0.6">linear scaling</text>
</svg>
</body></html>
